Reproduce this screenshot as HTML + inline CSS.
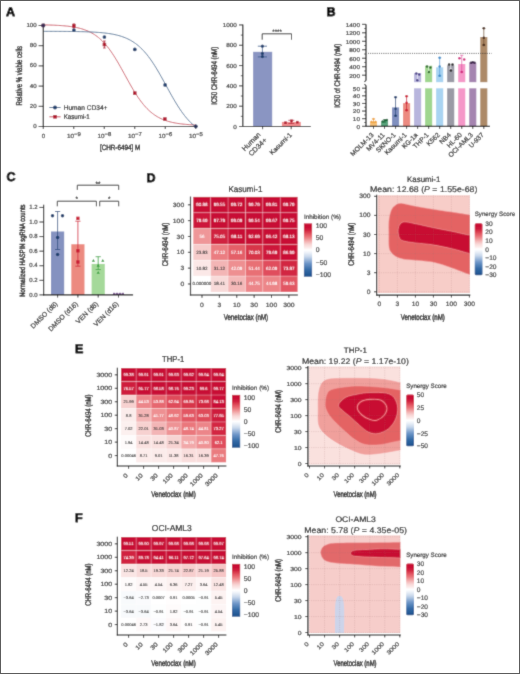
<!DOCTYPE html>
<html><head><meta charset="utf-8"><style>
html,body{margin:0;padding:0;background:#fff;}
svg{display:block;will-change:transform;}
text{font-family:"Liberation Sans", sans-serif;text-rendering:geometricPrecision;stroke-linejoin:round;}
</style></head><body>
<svg width="520" height="674" viewBox="0 0 520 674">
<defs><filter id="soft" x="0" y="0" width="520" height="674" filterUnits="userSpaceOnUse"><feConvolveMatrix order="3" kernelMatrix="0.02 0.09 0.02 0.09 0.56 0.09 0.02 0.09 0.02" divisor="1" edgeMode="duplicate" preserveAlpha="true"/></filter></defs>
<g filter="url(#soft)">
<rect x="0" y="0" width="520" height="674" fill="#fff"/>
<text x="6.00" y="16.20" font-size="12.5" text-anchor="start" fill="#000" font-weight="bold"  stroke="#000" stroke-width="0.8">A</text>
<polyline points="43.30,24.87 44.58,24.90 45.86,24.93 47.14,24.96 48.43,25.00 49.71,25.03 50.99,25.08 52.27,25.12 53.55,25.17 54.83,25.23 56.12,25.29 57.40,25.36 58.68,25.43 59.96,25.51 61.24,25.60 62.52,25.69 63.80,25.80 65.09,25.91 66.37,26.04 67.65,26.17 68.93,26.32 70.21,26.49 71.49,26.67 72.77,26.86 74.06,27.08 75.34,27.31 76.62,27.57 77.90,27.85 79.18,28.15 80.46,28.48 81.75,28.84 83.03,29.23 84.31,29.66 85.59,30.13 86.87,30.63 88.15,31.18 89.43,31.77 90.72,32.41 92.00,33.11 93.28,33.86 94.56,34.67 95.84,35.54 97.12,36.48 98.41,37.48 99.69,38.56 100.97,39.71 102.25,40.94 103.53,42.25 104.81,43.64 106.09,45.11 107.38,46.67 108.66,48.31 109.94,50.03 111.22,51.84 112.50,53.72 113.78,55.68 115.06,57.70 116.35,59.80 117.63,61.95 118.91,64.16 120.19,66.41 121.47,68.69 122.75,71.01 124.04,73.34 125.32,75.68 126.60,78.01 127.88,80.34 129.16,82.64 130.44,84.91 131.72,87.14 133.01,89.32 134.29,91.45 135.57,93.51 136.85,95.50 138.13,97.42 139.41,99.26 140.69,101.03 141.98,102.71 143.26,104.31 144.54,105.82 145.82,107.26 147.10,108.61 148.38,109.88 149.67,111.07 150.95,112.18 152.23,113.22 153.51,114.20 154.79,115.10 156.07,115.94 157.35,116.72 158.64,117.44 159.92,118.11 161.20,118.73 162.48,119.30 163.76,119.82 165.04,120.31 166.33,120.75 167.61,121.16 168.89,121.54 170.17,121.89 171.45,122.20 172.73,122.50 174.01,122.76 175.30,123.01 176.58,123.23 177.86,123.44 179.14,123.62 180.42,123.80 181.70,123.95 182.98,124.10 184.27,124.23 185.55,124.35 186.83,124.46 188.11,124.56 189.39,124.65 190.67,124.73 191.96,124.81 193.24,124.88 194.52,124.94 195.80,125.00" fill="none" stroke="#c9505e" stroke-width="0.9"/>
<polyline points="43.30,31.33 44.58,31.33 45.86,31.33 47.14,31.34 48.43,31.34 49.71,31.34 50.99,31.35 52.27,31.35 53.55,31.35 54.83,31.36 56.12,31.37 57.40,31.37 58.68,31.38 59.96,31.38 61.24,31.39 62.52,31.40 63.80,31.41 65.09,31.42 66.37,31.43 67.65,31.44 68.93,31.45 70.21,31.47 71.49,31.48 72.77,31.50 74.06,31.52 75.34,31.54 76.62,31.56 77.90,31.58 79.18,31.61 80.46,31.64 81.75,31.67 83.03,31.70 84.31,31.73 85.59,31.77 86.87,31.82 88.15,31.86 89.43,31.91 90.72,31.97 92.00,32.03 93.28,32.09 94.56,32.16 95.84,32.24 97.12,32.33 98.41,32.42 99.69,32.52 100.97,32.63 102.25,32.74 103.53,32.87 104.81,33.01 106.09,33.16 107.38,33.33 108.66,33.51 109.94,33.70 111.22,33.91 112.50,34.14 113.78,34.39 115.06,34.66 116.35,34.96 117.63,35.27 118.91,35.62 120.19,35.99 121.47,36.39 122.75,36.83 124.04,37.30 125.32,37.81 126.60,38.36 127.88,38.95 129.16,39.59 130.44,40.28 131.72,41.01 133.01,41.80 134.29,42.65 135.57,43.56 136.85,44.53 138.13,45.57 139.41,46.68 140.69,47.85 141.98,49.10 143.26,50.42 144.54,51.82 145.82,53.30 147.10,54.85 148.38,56.49 149.67,58.20 150.95,59.98 152.23,61.84 153.51,63.77 154.79,65.78 156.07,67.84 157.35,69.96 158.64,72.14 159.92,74.37 161.20,76.63 162.48,78.93 163.76,81.25 165.04,83.59 166.33,85.93 167.61,88.28 168.89,90.61 170.17,92.93 171.45,95.22 172.73,97.48 174.01,99.69 175.30,101.86 176.58,103.97 177.86,106.02 179.14,108.00 180.42,109.91 181.70,111.76 182.98,113.53 184.27,115.22 185.55,116.83 186.83,118.37 188.11,119.82 189.39,121.20 190.67,122.51 191.96,123.74 193.24,124.90 194.52,125.99 195.80,126.50" fill="none" stroke="#4b6d92" stroke-width="0.9"/>
<line x1="43.30" y1="25.00" x2="43.30" y2="127.10" stroke="#1a1a1a" stroke-width="1.2" />
<line x1="42.70" y1="126.50" x2="196.30" y2="126.50" stroke="#1a1a1a" stroke-width="1.2" />
<line x1="38.60" y1="126.50" x2="43.30" y2="126.50" stroke="#1a1a1a" stroke-width="0.9" />
<text x="0" y="0" font-size="5.8" text-anchor="end" fill="#333" transform="translate(36.70 128.00) scale(1.06 1)" stroke="#333" stroke-width="0.2" >0</text>
<line x1="38.60" y1="106.30" x2="43.30" y2="106.30" stroke="#1a1a1a" stroke-width="0.9" />
<text x="0" y="0" font-size="5.8" text-anchor="end" fill="#333" transform="translate(36.70 107.80) scale(1.06 1)" stroke="#333" stroke-width="0.2" >20</text>
<line x1="38.60" y1="86.10" x2="43.30" y2="86.10" stroke="#1a1a1a" stroke-width="0.9" />
<text x="0" y="0" font-size="5.8" text-anchor="end" fill="#333" transform="translate(36.70 87.60) scale(1.06 1)" stroke="#333" stroke-width="0.2" >40</text>
<line x1="38.60" y1="65.90" x2="43.30" y2="65.90" stroke="#1a1a1a" stroke-width="0.9" />
<text x="0" y="0" font-size="5.8" text-anchor="end" fill="#333" transform="translate(36.70 67.40) scale(1.06 1)" stroke="#333" stroke-width="0.2" >60</text>
<line x1="38.60" y1="45.70" x2="43.30" y2="45.70" stroke="#1a1a1a" stroke-width="0.9" />
<text x="0" y="0" font-size="5.8" text-anchor="end" fill="#333" transform="translate(36.70 47.20) scale(1.06 1)" stroke="#333" stroke-width="0.2" >80</text>
<line x1="38.60" y1="25.50" x2="43.30" y2="25.50" stroke="#1a1a1a" stroke-width="0.9" />
<text x="0" y="0" font-size="5.8" text-anchor="end" fill="#333" transform="translate(36.70 27.00) scale(1.06 1)" stroke="#333" stroke-width="0.2" >100</text>
<line x1="43.25" y1="126.50" x2="43.25" y2="129.00" stroke="#1a1a1a" stroke-width="0.9" />
<text x="0" y="0" font-size="6.0" text-anchor="middle" fill="#333" transform="translate(43.45 137.80)" stroke="#333" stroke-width="0.2" >0</text>
<line x1="73.75" y1="126.50" x2="73.75" y2="129.00" stroke="#1a1a1a" stroke-width="0.9" />
<text x="0" y="0" font-size="6.0" text-anchor="start" fill="#333" transform="translate(67.05 137.80) scale(1.05 1)" stroke="#333" stroke-width="0.2" >10<tspan dy="-2.2" font-size="5.7">−9</tspan></text>
<line x1="104.25" y1="126.50" x2="104.25" y2="129.00" stroke="#1a1a1a" stroke-width="0.9" />
<text x="0" y="0" font-size="6.0" text-anchor="start" fill="#333" transform="translate(97.55 137.80) scale(1.05 1)" stroke="#333" stroke-width="0.2" >10<tspan dy="-2.2" font-size="5.7">−8</tspan></text>
<line x1="134.75" y1="126.50" x2="134.75" y2="129.00" stroke="#1a1a1a" stroke-width="0.9" />
<text x="0" y="0" font-size="6.0" text-anchor="start" fill="#333" transform="translate(128.05 137.80) scale(1.05 1)" stroke="#333" stroke-width="0.2" >10<tspan dy="-2.2" font-size="5.7">−7</tspan></text>
<line x1="165.25" y1="126.50" x2="165.25" y2="129.00" stroke="#1a1a1a" stroke-width="0.9" />
<text x="0" y="0" font-size="6.0" text-anchor="start" fill="#333" transform="translate(158.55 137.80) scale(1.05 1)" stroke="#333" stroke-width="0.2" >10<tspan dy="-2.2" font-size="5.7">−6</tspan></text>
<line x1="195.75" y1="126.50" x2="195.75" y2="129.00" stroke="#1a1a1a" stroke-width="0.9" />
<text x="0" y="0" font-size="6.0" text-anchor="start" fill="#333" transform="translate(189.05 137.80) scale(1.05 1)" stroke="#333" stroke-width="0.2" >10<tspan dy="-2.2" font-size="5.7">−5</tspan></text>
<text x="120.10" y="149.90" font-size="7.5" text-anchor="middle" fill="#222" textLength="40.20" lengthAdjust="spacingAndGlyphs" stroke="#222" stroke-width="0.42">[CHR-6494] M</text>
<text x="21.90" y="75.75" font-size="8.6" text-anchor="middle" fill="#222" textLength="59.70" lengthAdjust="spacingAndGlyphs" transform="rotate(-90 21.90 75.75)" stroke="#222" stroke-width="0.42">Relative % viable cells</text>
<circle cx="73.90" cy="30.10" r="1.85" fill="#1f3f6e" />
<circle cx="104.40" cy="37.00" r="1.85" fill="#1f3f6e" />
<circle cx="134.80" cy="49.40" r="1.85" fill="#1f3f6e" />
<circle cx="165.10" cy="84.90" r="1.85" fill="#1f3f6e" />
<circle cx="195.80" cy="126.30" r="1.85" fill="#1f3f6e" />
<line x1="104.40" y1="41.00" x2="104.40" y2="48.00" stroke="#b0182f" stroke-width="0.8" />
<line x1="103.10" y1="41.00" x2="105.70" y2="41.00" stroke="#b0182f" stroke-width="0.8" />
<line x1="103.10" y1="48.00" x2="105.70" y2="48.00" stroke="#b0182f" stroke-width="0.8" />
<line x1="73.90" y1="23.90" x2="73.90" y2="27.80" stroke="#b0182f" stroke-width="0.8" />
<line x1="72.60" y1="23.90" x2="75.20" y2="23.90" stroke="#b0182f" stroke-width="0.8" />
<line x1="72.60" y1="27.80" x2="75.20" y2="27.80" stroke="#b0182f" stroke-width="0.8" />
<rect x="72.15" y="24.05" width="3.50" height="3.50" fill="#b0182f" />
<rect x="102.65" y="42.75" width="3.50" height="3.50" fill="#b0182f" />
<rect x="133.05" y="91.35" width="3.50" height="3.50" fill="#b0182f" />
<rect x="163.15" y="117.25" width="3.50" height="3.50" fill="#b0182f" />
<rect x="41.60" y="23.70" width="3.40" height="3.40" fill="#6a2040" />
<circle cx="43.30" cy="25.50" r="2.1" fill="#3a2a55" />
<path d="M193.70,126.4 L195.8,124.20 L197.90,126.4 L195.8,128.60 Z" fill="#2a3058"/>
<line x1="49.40" y1="107.50" x2="60.60" y2="107.50" stroke="#4b6d92" stroke-width="1.0" />
<circle cx="55.00" cy="107.50" r="2.0" fill="#1f3f6e" />
<text x="63.70" y="109.90" font-size="6.8" text-anchor="start" fill="#222" textLength="43.70" lengthAdjust="spacingAndGlyphs"  stroke="#222" stroke-width="0.2">Human CD34+</text>
<line x1="49.40" y1="116.80" x2="60.60" y2="116.80" stroke="#c9505e" stroke-width="1.0" />
<rect x="53.20" y="115.00" width="3.60" height="3.60" fill="#b0182f" />
<text x="63.70" y="119.20" font-size="6.8" text-anchor="start" fill="#222" textLength="26.10" lengthAdjust="spacingAndGlyphs"  stroke="#222" stroke-width="0.2">Kasumi-1</text>
<rect x="253.10" y="51.80" width="19.10" height="74.70" fill="#8a95c2" />
<rect x="281.90" y="121.90" width="18.90" height="4.60" fill="#ef8a8c" />
<line x1="262.40" y1="46.20" x2="262.40" y2="56.90" stroke="#3a5a8c" stroke-width="0.8" />
<line x1="257.80" y1="46.20" x2="267.00" y2="46.20" stroke="#3a5a8c" stroke-width="0.8" />
<line x1="257.80" y1="56.90" x2="267.00" y2="56.90" stroke="#3a5a8c" stroke-width="0.8" />
<circle cx="262.40" cy="46.20" r="1.6" fill="#1f3f6e" />
<circle cx="262.40" cy="53.40" r="1.6" fill="#1f3f6e" />
<circle cx="262.40" cy="56.60" r="1.6" fill="#1f3f6e" />
<line x1="291.30" y1="120.30" x2="291.30" y2="123.50" stroke="#b0182f" stroke-width="0.7" />
<line x1="288.30" y1="120.30" x2="294.30" y2="120.30" stroke="#b0182f" stroke-width="0.7" />
<line x1="288.30" y1="123.50" x2="294.30" y2="123.50" stroke="#b0182f" stroke-width="0.7" />
<rect x="284.20" y="121.40" width="2.60" height="2.60" fill="#b0182f" />
<rect x="290.20" y="119.50" width="2.60" height="2.60" fill="#b0182f" />
<rect x="296.00" y="120.90" width="2.60" height="2.60" fill="#b0182f" />
<line x1="242.80" y1="24.50" x2="242.80" y2="127.10" stroke="#1a1a1a" stroke-width="1.2" />
<line x1="242.20" y1="126.50" x2="310.70" y2="126.50" stroke="#1a1a1a" stroke-width="1.2" />
<line x1="239.00" y1="126.50" x2="242.80" y2="126.50" stroke="#1a1a1a" stroke-width="0.9" />
<text x="0" y="0" font-size="5.8" text-anchor="end" fill="#333" transform="translate(236.90 128.55) scale(1.1 1)" stroke="#333" stroke-width="0.2" >0</text>
<line x1="240.80" y1="116.34" x2="242.80" y2="116.34" stroke="#1a1a1a" stroke-width="0.7" />
<line x1="239.00" y1="106.19" x2="242.80" y2="106.19" stroke="#1a1a1a" stroke-width="0.9" />
<text x="0" y="0" font-size="5.8" text-anchor="end" fill="#333" transform="translate(236.90 108.24) scale(1.1 1)" stroke="#333" stroke-width="0.2" >200</text>
<line x1="240.80" y1="96.03" x2="242.80" y2="96.03" stroke="#1a1a1a" stroke-width="0.7" />
<line x1="239.00" y1="85.88" x2="242.80" y2="85.88" stroke="#1a1a1a" stroke-width="0.9" />
<text x="0" y="0" font-size="5.8" text-anchor="end" fill="#333" transform="translate(236.90 87.93) scale(1.1 1)" stroke="#333" stroke-width="0.2" >400</text>
<line x1="240.80" y1="75.72" x2="242.80" y2="75.72" stroke="#1a1a1a" stroke-width="0.7" />
<line x1="239.00" y1="65.57" x2="242.80" y2="65.57" stroke="#1a1a1a" stroke-width="0.9" />
<text x="0" y="0" font-size="5.8" text-anchor="end" fill="#333" transform="translate(236.90 67.62) scale(1.1 1)" stroke="#333" stroke-width="0.2" >600</text>
<line x1="240.80" y1="55.41" x2="242.80" y2="55.41" stroke="#1a1a1a" stroke-width="0.7" />
<line x1="239.00" y1="45.26" x2="242.80" y2="45.26" stroke="#1a1a1a" stroke-width="0.9" />
<text x="0" y="0" font-size="5.8" text-anchor="end" fill="#333" transform="translate(236.90 47.31) scale(1.1 1)" stroke="#333" stroke-width="0.2" >800</text>
<line x1="240.80" y1="35.11" x2="242.80" y2="35.11" stroke="#1a1a1a" stroke-width="0.7" />
<line x1="239.00" y1="24.95" x2="242.80" y2="24.95" stroke="#1a1a1a" stroke-width="0.9" />
<text x="0" y="0" font-size="5.8" text-anchor="end" fill="#333" transform="translate(236.90 27.00) scale(1.1 1)" stroke="#333" stroke-width="0.2" >1000</text>
<line x1="262.60" y1="126.50" x2="262.60" y2="129.20" stroke="#1a1a1a" stroke-width="0.9" />
<line x1="291.20" y1="126.50" x2="291.20" y2="129.20" stroke="#1a1a1a" stroke-width="0.9" />
<path d="M262.2,39.7 L262.2,33.8 L291.5,33.8 L291.5,39.7" fill="none" stroke="#222" stroke-width="0.9"/>
<text x="277.10" y="34.20" font-size="6.6" text-anchor="middle" fill="#222" textLength="9.60" lengthAdjust="spacingAndGlyphs"  stroke="#222" stroke-width="0.2">****</text>
<text x="216.80" y="75.80" font-size="8.2" text-anchor="middle" fill="#222" textLength="58.00" lengthAdjust="spacingAndGlyphs" transform="rotate(-90 216.80 75.80)" stroke="#222" stroke-width="0.42">IC50 CHR-6494 (nM)</text>
<text x="261.20" y="135.20" font-size="7.2" text-anchor="end" fill="#222" transform="rotate(-45 261.20 135.20)"  stroke="#222" stroke-width="0.2">Human</text>
<text x="267.40" y="140.60" font-size="7.2" text-anchor="end" fill="#222" transform="rotate(-45 267.40 140.60)"  stroke="#222" stroke-width="0.2">CD34+</text>
<text x="292.30" y="135.40" font-size="6.7" text-anchor="end" fill="#222" transform="rotate(-45 292.30 135.40)"  stroke="#222" stroke-width="0.2">Kasumi-1</text>
<text x="326.50" y="15.90" font-size="12.5" text-anchor="start" fill="#000" font-weight="bold"  stroke="#000" stroke-width="0.8">B</text>
<rect x="369.95" y="121.12" width="7.10" height="5.18" fill="#f8c27a" />
<rect x="380.98" y="120.97" width="7.10" height="5.33" fill="#5aa57e" />
<rect x="392.01" y="107.40" width="7.10" height="18.90" fill="#8090bf" />
<rect x="403.04" y="103.14" width="7.10" height="23.16" fill="#ec8a80" />
<rect x="414.07" y="88.30" width="7.10" height="38.00" fill="#b8b5dd" />
<rect x="414.07" y="73.00" width="7.10" height="9.20" fill="#b8b5dd" />
<rect x="425.10" y="88.30" width="7.10" height="38.00" fill="#9fd68e" />
<rect x="425.10" y="65.70" width="7.10" height="16.50" fill="#9fd68e" />
<rect x="436.13" y="88.30" width="7.10" height="38.00" fill="#a9d4f2" />
<rect x="436.13" y="67.31" width="7.10" height="14.89" fill="#a9d4f2" />
<rect x="447.16" y="88.30" width="7.10" height="38.00" fill="#9a9aa5" />
<rect x="447.16" y="65.19" width="7.10" height="17.01" fill="#9a9aa5" />
<rect x="458.19" y="88.30" width="7.10" height="38.00" fill="#f597c8" />
<rect x="458.19" y="64.01" width="7.10" height="18.19" fill="#f597c8" />
<rect x="469.22" y="88.30" width="7.10" height="38.00" fill="#a584b0" />
<rect x="469.22" y="62.61" width="7.10" height="19.59" fill="#a584b0" />
<rect x="480.25" y="88.30" width="7.10" height="38.00" fill="#ad8a68" />
<rect x="480.25" y="37.00" width="7.10" height="45.20" fill="#ad8a68" />
<line x1="373.50" y1="118.60" x2="373.50" y2="122.80" stroke="#eea23a" stroke-width="0.7" />
<line x1="371.90" y1="118.60" x2="375.10" y2="118.60" stroke="#eea23a" stroke-width="0.7" />
<line x1="371.90" y1="122.80" x2="375.10" y2="122.80" stroke="#eea23a" stroke-width="0.7" />
<path d="M372.10,120.06 L374.90,120.06 L373.50,117.54 Z" fill="#eea23a"/>
<path d="M370.10,122.86 L372.90,122.86 L371.50,120.34 Z" fill="#eea23a"/>
<path d="M374.10,122.86 L376.90,122.86 L375.50,120.34 Z" fill="#eea23a"/>
<line x1="384.53" y1="119.60" x2="384.53" y2="122.20" stroke="#1d6b3e" stroke-width="0.7" />
<line x1="382.93" y1="119.60" x2="386.13" y2="119.60" stroke="#1d6b3e" stroke-width="0.7" />
<line x1="382.93" y1="122.20" x2="386.13" y2="122.20" stroke="#1d6b3e" stroke-width="0.7" />
<circle cx="382.73" cy="121.60" r="1.25" fill="#1d6b3e" />
<circle cx="385.13" cy="120.20" r="1.25" fill="#1d6b3e" />
<circle cx="386.93" cy="120.00" r="1.25" fill="#1d6b3e" />
<line x1="395.56" y1="97.20" x2="395.56" y2="115.80" stroke="#2a4a7e" stroke-width="0.8" />
<line x1="393.96" y1="97.20" x2="397.16" y2="97.20" stroke="#2a4a7e" stroke-width="0.8" />
<line x1="393.96" y1="115.80" x2="397.16" y2="115.80" stroke="#2a4a7e" stroke-width="0.8" />
<circle cx="395.56" cy="97.20" r="1.25" fill="#1f3f6e" />
<circle cx="395.56" cy="108.80" r="1.25" fill="#1f3f6e" />
<circle cx="395.56" cy="115.80" r="1.25" fill="#1f3f6e" />
<line x1="406.59" y1="96.30" x2="406.59" y2="110.20" stroke="#cc1830" stroke-width="0.8" />
<line x1="404.99" y1="96.30" x2="408.19" y2="96.30" stroke="#cc1830" stroke-width="0.8" />
<line x1="404.99" y1="110.20" x2="408.19" y2="110.20" stroke="#cc1830" stroke-width="0.8" />
<circle cx="406.59" cy="96.30" r="1.25" fill="#cc1830" />
<circle cx="406.59" cy="102.80" r="1.25" fill="#cc1830" />
<circle cx="406.59" cy="110.20" r="1.25" fill="#cc1830" />
<line x1="417.62" y1="72.50" x2="417.62" y2="80.00" stroke="#ffffff" stroke-width="0.6" />
<line x1="416.02" y1="72.50" x2="419.22" y2="72.50" stroke="#ffffff" stroke-width="0.6" />
<line x1="416.02" y1="80.00" x2="419.22" y2="80.00" stroke="#ffffff" stroke-width="0.6" />
<circle cx="416.32" cy="73.60" r="1.25" fill="#4a3f86" />
<circle cx="419.22" cy="74.60" r="1.25" fill="#4a3f86" />
<circle cx="417.32" cy="80.30" r="1.25" fill="#4a3f86" />
<line x1="428.65" y1="65.80" x2="428.65" y2="71.60" stroke="#ffffff" stroke-width="0.6" />
<line x1="427.05" y1="65.80" x2="430.25" y2="65.80" stroke="#ffffff" stroke-width="0.6" />
<line x1="427.05" y1="71.60" x2="430.25" y2="71.60" stroke="#ffffff" stroke-width="0.6" />
<circle cx="427.05" cy="66.50" r="1.25" fill="#2a6a2a" />
<circle cx="430.45" cy="67.40" r="1.25" fill="#2a6a2a" />
<circle cx="428.85" cy="72.10" r="1.25" fill="#2a6a2a" />
<line x1="439.68" y1="57.70" x2="439.68" y2="75.80" stroke="#4a9ad8" stroke-width="0.7" />
<line x1="438.08" y1="57.70" x2="441.28" y2="57.70" stroke="#4a9ad8" stroke-width="0.7" />
<line x1="438.08" y1="75.80" x2="441.28" y2="75.80" stroke="#4a9ad8" stroke-width="0.7" />
<circle cx="439.68" cy="57.70" r="1.25" fill="#3d8cc8" />
<circle cx="439.68" cy="66.50" r="1.25" fill="#3d8cc8" />
<circle cx="439.68" cy="75.80" r="1.25" fill="#3d8cc8" />
<line x1="450.71" y1="64.00" x2="450.71" y2="69.00" stroke="#ffffff" stroke-width="0.6" />
<line x1="449.11" y1="64.00" x2="452.31" y2="64.00" stroke="#ffffff" stroke-width="0.6" />
<line x1="449.11" y1="69.00" x2="452.31" y2="69.00" stroke="#ffffff" stroke-width="0.6" />
<circle cx="449.11" cy="64.50" r="1.25" fill="#222" />
<circle cx="452.51" cy="64.50" r="1.25" fill="#222" />
<circle cx="450.91" cy="70.40" r="1.25" fill="#222" />
<line x1="461.74" y1="55.30" x2="461.74" y2="72.00" stroke="#e050a0" stroke-width="0.7" />
<line x1="460.14" y1="55.30" x2="463.34" y2="55.30" stroke="#e050a0" stroke-width="0.7" />
<line x1="460.14" y1="72.00" x2="463.34" y2="72.00" stroke="#e050a0" stroke-width="0.7" />
<circle cx="459.44" cy="58.30" r="1.25" fill="#d0207a" />
<circle cx="464.24" cy="59.50" r="1.25" fill="#d0207a" />
<circle cx="461.74" cy="72.00" r="1.25" fill="#d0207a" />
<circle cx="470.97" cy="62.70" r="1.25" fill="#3a1f4a" />
<circle cx="472.77" cy="62.20" r="1.25" fill="#3a1f4a" />
<circle cx="474.57" cy="62.70" r="1.25" fill="#3a1f4a" />
<line x1="483.80" y1="28.30" x2="483.80" y2="45.00" stroke="#6a4a2a" stroke-width="0.7" />
<line x1="482.20" y1="28.30" x2="485.40" y2="28.30" stroke="#6a4a2a" stroke-width="0.7" />
<line x1="482.20" y1="45.00" x2="485.40" y2="45.00" stroke="#6a4a2a" stroke-width="0.7" />
<circle cx="483.80" cy="28.30" r="1.25" fill="#4a2a1a" />
<circle cx="483.80" cy="37.70" r="1.25" fill="#4a2a1a" />
<circle cx="483.80" cy="45.00" r="1.25" fill="#4a2a1a" />
<line x1="368.00" y1="53.40" x2="491.60" y2="53.40" stroke="#222" stroke-width="0.9" stroke-dasharray="0.9 1.3"/>
<line x1="366.00" y1="24.30" x2="366.00" y2="80.40" stroke="#1a1a1a" stroke-width="1.2" />
<line x1="366.00" y1="85.60" x2="366.00" y2="126.90" stroke="#1a1a1a" stroke-width="1.2" />
<path d="M366.0,80.4 q-0.8,0.9 -1.6,1.4" fill="none" stroke="#1a1a1a" stroke-width="1.1"/>
<path d="M366.0,85.6 q-0.8,-0.9 -1.6,-1.4" fill="none" stroke="#1a1a1a" stroke-width="1.1"/>
<line x1="365.40" y1="126.40" x2="490.00" y2="126.40" stroke="#1a1a1a" stroke-width="1.2" />
<line x1="362.00" y1="75.20" x2="366.00" y2="75.20" stroke="#1a1a1a" stroke-width="0.9" />
<text x="0" y="0" font-size="5.5" text-anchor="end" fill="#333" transform="translate(360.00 77.60) scale(1.17 1)" stroke="#333" stroke-width="0.2" >200</text>
<line x1="362.00" y1="66.72" x2="366.00" y2="66.72" stroke="#1a1a1a" stroke-width="0.9" />
<text x="0" y="0" font-size="5.5" text-anchor="end" fill="#333" transform="translate(360.00 69.12) scale(1.17 1)" stroke="#333" stroke-width="0.2" >400</text>
<line x1="362.00" y1="58.24" x2="366.00" y2="58.24" stroke="#1a1a1a" stroke-width="0.9" />
<text x="0" y="0" font-size="5.5" text-anchor="end" fill="#333" transform="translate(360.00 60.64) scale(1.17 1)" stroke="#333" stroke-width="0.2" >600</text>
<line x1="362.00" y1="49.76" x2="366.00" y2="49.76" stroke="#1a1a1a" stroke-width="0.9" />
<text x="0" y="0" font-size="5.5" text-anchor="end" fill="#333" transform="translate(360.00 52.16) scale(1.17 1)" stroke="#333" stroke-width="0.2" >800</text>
<line x1="362.00" y1="41.28" x2="366.00" y2="41.28" stroke="#1a1a1a" stroke-width="0.9" />
<text x="0" y="0" font-size="5.5" text-anchor="end" fill="#333" transform="translate(360.00 43.68) scale(1.17 1)" stroke="#333" stroke-width="0.2" >1000</text>
<line x1="362.00" y1="32.80" x2="366.00" y2="32.80" stroke="#1a1a1a" stroke-width="0.9" />
<text x="0" y="0" font-size="5.5" text-anchor="end" fill="#333" transform="translate(360.00 35.20) scale(1.17 1)" stroke="#333" stroke-width="0.2" >1200</text>
<line x1="362.00" y1="24.32" x2="366.00" y2="24.32" stroke="#1a1a1a" stroke-width="0.9" />
<text x="0" y="0" font-size="5.5" text-anchor="end" fill="#333" transform="translate(360.00 26.72) scale(1.17 1)" stroke="#333" stroke-width="0.2" >1400</text>
<line x1="364.00" y1="70.96" x2="366.00" y2="70.96" stroke="#1a1a1a" stroke-width="0.6" />
<line x1="364.00" y1="62.48" x2="366.00" y2="62.48" stroke="#1a1a1a" stroke-width="0.6" />
<line x1="364.00" y1="54.00" x2="366.00" y2="54.00" stroke="#1a1a1a" stroke-width="0.6" />
<line x1="364.00" y1="45.52" x2="366.00" y2="45.52" stroke="#1a1a1a" stroke-width="0.6" />
<line x1="364.00" y1="37.04" x2="366.00" y2="37.04" stroke="#1a1a1a" stroke-width="0.6" />
<line x1="364.00" y1="28.56" x2="366.00" y2="28.56" stroke="#1a1a1a" stroke-width="0.6" />
<line x1="362.00" y1="126.30" x2="366.00" y2="126.30" stroke="#1a1a1a" stroke-width="0.9" />
<text x="0" y="0" font-size="5.5" text-anchor="end" fill="#333" transform="translate(360.00 128.70) scale(1.17 1)" stroke="#333" stroke-width="0.2" >0</text>
<line x1="362.00" y1="118.68" x2="366.00" y2="118.68" stroke="#1a1a1a" stroke-width="0.9" />
<text x="0" y="0" font-size="5.5" text-anchor="end" fill="#333" transform="translate(360.00 121.08) scale(1.17 1)" stroke="#333" stroke-width="0.2" >10</text>
<line x1="362.00" y1="111.06" x2="366.00" y2="111.06" stroke="#1a1a1a" stroke-width="0.9" />
<text x="0" y="0" font-size="5.5" text-anchor="end" fill="#333" transform="translate(360.00 113.46) scale(1.17 1)" stroke="#333" stroke-width="0.2" >20</text>
<line x1="362.00" y1="103.44" x2="366.00" y2="103.44" stroke="#1a1a1a" stroke-width="0.9" />
<text x="0" y="0" font-size="5.5" text-anchor="end" fill="#333" transform="translate(360.00 105.84) scale(1.17 1)" stroke="#333" stroke-width="0.2" >30</text>
<line x1="362.00" y1="95.82" x2="366.00" y2="95.82" stroke="#1a1a1a" stroke-width="0.9" />
<text x="0" y="0" font-size="5.5" text-anchor="end" fill="#333" transform="translate(360.00 98.22) scale(1.17 1)" stroke="#333" stroke-width="0.2" >40</text>
<line x1="362.00" y1="88.20" x2="366.00" y2="88.20" stroke="#1a1a1a" stroke-width="0.9" />
<text x="0" y="0" font-size="5.5" text-anchor="end" fill="#333" transform="translate(360.00 90.60) scale(1.17 1)" stroke="#333" stroke-width="0.2" >50</text>
<line x1="364.00" y1="122.49" x2="366.00" y2="122.49" stroke="#1a1a1a" stroke-width="0.6" />
<line x1="364.00" y1="114.87" x2="366.00" y2="114.87" stroke="#1a1a1a" stroke-width="0.6" />
<line x1="364.00" y1="107.25" x2="366.00" y2="107.25" stroke="#1a1a1a" stroke-width="0.6" />
<line x1="364.00" y1="99.63" x2="366.00" y2="99.63" stroke="#1a1a1a" stroke-width="0.6" />
<line x1="364.00" y1="92.01" x2="366.00" y2="92.01" stroke="#1a1a1a" stroke-width="0.6" />
<line x1="373.50" y1="126.40" x2="373.50" y2="128.90" stroke="#1a1a1a" stroke-width="0.9" />
<text x="374.10" y="135.40" font-size="6.7" text-anchor="end" fill="#222" transform="rotate(-45 374.10 135.40)"  stroke="#222" stroke-width="0.2">MOLM-13</text>
<line x1="384.53" y1="126.40" x2="384.53" y2="128.90" stroke="#1a1a1a" stroke-width="0.9" />
<text x="385.13" y="135.40" font-size="6.7" text-anchor="end" fill="#222" transform="rotate(-45 385.13 135.40)"  stroke="#222" stroke-width="0.2">MV4-11</text>
<line x1="395.56" y1="126.40" x2="395.56" y2="128.90" stroke="#1a1a1a" stroke-width="0.9" />
<text x="396.16" y="135.40" font-size="6.7" text-anchor="end" fill="#222" transform="rotate(-45 396.16 135.40)"  stroke="#222" stroke-width="0.2">SKNO-1</text>
<line x1="406.59" y1="126.40" x2="406.59" y2="128.90" stroke="#1a1a1a" stroke-width="0.9" />
<text x="407.19" y="135.40" font-size="6.7" text-anchor="end" fill="#222" transform="rotate(-45 407.19 135.40)"  stroke="#222" stroke-width="0.2">Kasumi-1</text>
<line x1="417.62" y1="126.40" x2="417.62" y2="128.90" stroke="#1a1a1a" stroke-width="0.9" />
<text x="418.22" y="135.40" font-size="6.7" text-anchor="end" fill="#222" transform="rotate(-45 418.22 135.40)"  stroke="#222" stroke-width="0.2">KG-1a</text>
<line x1="428.65" y1="126.40" x2="428.65" y2="128.90" stroke="#1a1a1a" stroke-width="0.9" />
<text x="429.25" y="135.40" font-size="6.7" text-anchor="end" fill="#222" transform="rotate(-45 429.25 135.40)"  stroke="#222" stroke-width="0.2">THP-1</text>
<line x1="439.68" y1="126.40" x2="439.68" y2="128.90" stroke="#1a1a1a" stroke-width="0.9" />
<text x="440.28" y="135.40" font-size="6.7" text-anchor="end" fill="#222" transform="rotate(-45 440.28 135.40)"  stroke="#222" stroke-width="0.2">K562</text>
<line x1="450.71" y1="126.40" x2="450.71" y2="128.90" stroke="#1a1a1a" stroke-width="0.9" />
<text x="451.31" y="135.40" font-size="6.7" text-anchor="end" fill="#222" transform="rotate(-45 451.31 135.40)"  stroke="#222" stroke-width="0.2">NB4</text>
<line x1="461.74" y1="126.40" x2="461.74" y2="128.90" stroke="#1a1a1a" stroke-width="0.9" />
<text x="462.34" y="135.40" font-size="6.7" text-anchor="end" fill="#222" transform="rotate(-45 462.34 135.40)"  stroke="#222" stroke-width="0.2">HL-60</text>
<line x1="472.77" y1="126.40" x2="472.77" y2="128.90" stroke="#1a1a1a" stroke-width="0.9" />
<text x="473.37" y="135.40" font-size="6.7" text-anchor="end" fill="#222" transform="rotate(-45 473.37 135.40)"  stroke="#222" stroke-width="0.2">OCI-AML3</text>
<line x1="483.80" y1="126.40" x2="483.80" y2="128.90" stroke="#1a1a1a" stroke-width="0.9" />
<text x="484.40" y="135.40" font-size="6.7" text-anchor="end" fill="#222" transform="rotate(-45 484.40 135.40)"  stroke="#222" stroke-width="0.2">U-937</text>
<text x="340.20" y="75.65" font-size="8.1" text-anchor="middle" fill="#222" textLength="64.10" lengthAdjust="spacingAndGlyphs" transform="rotate(-90 340.20 75.65)" stroke="#222" stroke-width="0.42">IC50 of CHR-6494 (nM)</text>
<text x="6.60" y="181.30" font-size="12.5" text-anchor="start" fill="#000" font-weight="bold"  stroke="#000" stroke-width="0.8">C</text>
<rect x="51.00" y="231.48" width="13.20" height="63.42" fill="#8592c0" />
<rect x="71.30" y="244.23" width="13.20" height="50.67" fill="#ec8a80" />
<rect x="91.60" y="263.92" width="13.20" height="30.98" fill="#a5d99a" />
<rect x="111.90" y="294.61" width="13.20" height="0.29" fill="#c0a0d0" />
<line x1="57.60" y1="211.50" x2="57.60" y2="249.50" stroke="#2a4a7e" stroke-width="0.8" />
<line x1="55.00" y1="211.50" x2="60.20" y2="211.50" stroke="#2a4a7e" stroke-width="0.8" />
<line x1="55.00" y1="249.50" x2="60.20" y2="249.50" stroke="#2a4a7e" stroke-width="0.8" />
<circle cx="52.50" cy="215.70" r="1.75" fill="#1f3f6e" />
<circle cx="62.50" cy="215.70" r="1.75" fill="#1f3f6e" />
<circle cx="57.60" cy="237.50" r="1.75" fill="#1f3f6e" />
<circle cx="57.60" cy="254.40" r="1.75" fill="#1f3f6e" />
<line x1="77.90" y1="221.20" x2="77.90" y2="266.20" stroke="#d0283a" stroke-width="0.8" />
<line x1="75.30" y1="221.20" x2="80.50" y2="221.20" stroke="#d0283a" stroke-width="0.8" />
<line x1="75.30" y1="266.20" x2="80.50" y2="266.20" stroke="#d0283a" stroke-width="0.8" />
<rect x="76.25" y="216.65" width="3.30" height="3.30" fill="#c81830" />
<rect x="76.25" y="249.15" width="3.30" height="3.30" fill="#c81830" />
<rect x="76.25" y="260.35" width="3.30" height="3.30" fill="#c81830" />
<line x1="98.20" y1="256.70" x2="98.20" y2="269.60" stroke="#3aa040" stroke-width="0.8" />
<line x1="95.60" y1="256.70" x2="100.80" y2="256.70" stroke="#3aa040" stroke-width="0.8" />
<line x1="95.60" y1="269.60" x2="100.80" y2="269.60" stroke="#3aa040" stroke-width="0.8" />
<path d="M91.80,261.84 L95.00,261.84 L93.40,258.96 Z" fill="#3aa040"/>
<path d="M101.20,261.84 L104.40,261.84 L102.80,258.96 Z" fill="#3aa040"/>
<path d="M96.60,266.74 L99.80,266.74 L98.20,263.86 Z" fill="#3aa040"/>
<path d="M96.60,273.84 L99.80,273.84 L98.20,270.96 Z" fill="#3aa040"/>
<path d="M112.50,294.95 L115.50,294.95 L114.00,292.25 Z" fill="#5a2a7a"/>
<path d="M115.50,294.95 L118.50,294.95 L117.00,292.25 Z" fill="#5a2a7a"/>
<path d="M118.50,294.95 L121.50,294.95 L120.00,292.25 Z" fill="#5a2a7a"/>
<path d="M121.50,294.95 L124.50,294.95 L123.00,292.25 Z" fill="#5a2a7a"/>
<line x1="113.00" y1="294.00" x2="124.00" y2="294.00" stroke="#5a2a7a" stroke-width="0.8" />
<line x1="43.60" y1="204.80" x2="43.60" y2="295.50" stroke="#1a1a1a" stroke-width="1.2" />
<line x1="43.00" y1="294.90" x2="133.10" y2="294.90" stroke="#1a1a1a" stroke-width="1.2" />
<line x1="39.40" y1="294.90" x2="43.60" y2="294.90" stroke="#1a1a1a" stroke-width="0.9" />
<text x="0" y="0" font-size="6.1" text-anchor="end" fill="#333" transform="translate(37.60 296.50) scale(0.98 1)" stroke="#333" stroke-width="0.2" >0.0</text>
<line x1="39.40" y1="280.32" x2="43.60" y2="280.32" stroke="#1a1a1a" stroke-width="0.9" />
<text x="0" y="0" font-size="6.1" text-anchor="end" fill="#333" transform="translate(37.60 281.92) scale(0.98 1)" stroke="#333" stroke-width="0.2" >0.2</text>
<line x1="39.40" y1="265.74" x2="43.60" y2="265.74" stroke="#1a1a1a" stroke-width="0.9" />
<text x="0" y="0" font-size="6.1" text-anchor="end" fill="#333" transform="translate(37.60 267.34) scale(0.98 1)" stroke="#333" stroke-width="0.2" >0.4</text>
<line x1="39.40" y1="251.16" x2="43.60" y2="251.16" stroke="#1a1a1a" stroke-width="0.9" />
<text x="0" y="0" font-size="6.1" text-anchor="end" fill="#333" transform="translate(37.60 252.76) scale(0.98 1)" stroke="#333" stroke-width="0.2" >0.6</text>
<line x1="39.40" y1="236.58" x2="43.60" y2="236.58" stroke="#1a1a1a" stroke-width="0.9" />
<text x="0" y="0" font-size="6.1" text-anchor="end" fill="#333" transform="translate(37.60 238.18) scale(0.98 1)" stroke="#333" stroke-width="0.2" >0.8</text>
<line x1="39.40" y1="222.00" x2="43.60" y2="222.00" stroke="#1a1a1a" stroke-width="0.9" />
<text x="0" y="0" font-size="6.1" text-anchor="end" fill="#333" transform="translate(37.60 223.60) scale(0.98 1)" stroke="#333" stroke-width="0.2" >1.0</text>
<line x1="39.40" y1="207.42" x2="43.60" y2="207.42" stroke="#1a1a1a" stroke-width="0.9" />
<text x="0" y="0" font-size="6.1" text-anchor="end" fill="#333" transform="translate(37.60 209.02) scale(0.98 1)" stroke="#333" stroke-width="0.2" >1.2</text>
<line x1="57.60" y1="294.90" x2="57.60" y2="297.50" stroke="#1a1a1a" stroke-width="0.9" />
<text x="58.00" y="304.30" font-size="6.9" text-anchor="end" fill="#222" transform="rotate(-45 58.00 304.30)"  stroke="#222" stroke-width="0.2">DMSO (d8)</text>
<line x1="77.90" y1="294.90" x2="77.90" y2="297.50" stroke="#1a1a1a" stroke-width="0.9" />
<text x="78.30" y="304.30" font-size="6.9" text-anchor="end" fill="#222" transform="rotate(-45 78.30 304.30)"  stroke="#222" stroke-width="0.2">DMSO (d16)</text>
<line x1="98.20" y1="294.90" x2="98.20" y2="297.50" stroke="#1a1a1a" stroke-width="0.9" />
<text x="98.60" y="304.30" font-size="6.9" text-anchor="end" fill="#222" transform="rotate(-45 98.60 304.30)"  stroke="#222" stroke-width="0.2">VEN (d8)</text>
<line x1="118.50" y1="294.90" x2="118.50" y2="297.50" stroke="#1a1a1a" stroke-width="0.9" />
<text x="118.90" y="304.30" font-size="6.9" text-anchor="end" fill="#222" transform="rotate(-45 118.90 304.30)"  stroke="#222" stroke-width="0.2">VEN (d16)</text>
<path d="M77.3,189.9 L77.3,185.2 L118.7,185.2 L118.7,189.9" fill="none" stroke="#222" stroke-width="0.9"/>
<text x="97.90" y="185.50" font-size="6.4" text-anchor="middle" fill="#222"  stroke="#222" stroke-width="0.2">**</text>
<path d="M57.3,206.3 L57.3,201.2 L96.4,201.2 L96.4,206.3" fill="none" stroke="#222" stroke-width="0.9"/>
<text x="76.80" y="201.00" font-size="6.4" text-anchor="middle" fill="#222"  stroke="#222" stroke-width="0.2">*</text>
<path d="M99.7,206.3 L99.7,201.2 L118.7,201.2 L118.7,206.3" fill="none" stroke="#222" stroke-width="0.9"/>
<text x="109.20" y="201.00" font-size="6.4" text-anchor="middle" fill="#222"  stroke="#222" stroke-width="0.2">*</text>
<text x="24.80" y="250.65" font-size="7.8" text-anchor="middle" fill="#222" textLength="92.30" lengthAdjust="spacingAndGlyphs" transform="rotate(-90 24.80 250.65)" stroke="#222" stroke-width="0.42">Normalized HASPIN sgRNA counts</text>
<text x="146.60" y="181.80" font-size="12.5" text-anchor="start" fill="#000" font-weight="bold"  stroke="#000" stroke-width="0.8">D</text>
<rect x="193.30" y="196.90" width="17.38" height="15.83" fill="#c90e35" />
<rect x="210.68" y="196.90" width="17.38" height="15.83" fill="#c80c34" />
<rect x="228.06" y="196.90" width="17.38" height="15.83" fill="#c80c34" />
<rect x="245.44" y="196.90" width="17.38" height="15.83" fill="#c80c34" />
<rect x="262.82" y="196.90" width="17.38" height="15.83" fill="#c80c34" />
<rect x="280.20" y="196.90" width="17.38" height="15.83" fill="#c80c34" />
<rect x="193.30" y="212.73" width="17.38" height="15.83" fill="#cd183b" />
<rect x="210.68" y="212.73" width="17.38" height="15.83" fill="#c80d34" />
<rect x="228.06" y="212.73" width="17.38" height="15.83" fill="#c80c34" />
<rect x="245.44" y="212.73" width="17.38" height="15.83" fill="#c80c34" />
<rect x="262.82" y="212.73" width="17.38" height="15.83" fill="#c80c34" />
<rect x="280.20" y="212.73" width="17.38" height="15.83" fill="#c80c34" />
<rect x="193.30" y="228.56" width="17.38" height="15.83" fill="#ef9698" />
<rect x="210.68" y="228.56" width="17.38" height="15.83" fill="#d02140" />
<rect x="228.06" y="228.56" width="17.38" height="15.83" fill="#c80d34" />
<rect x="245.44" y="228.56" width="17.38" height="15.83" fill="#c90e35" />
<rect x="262.82" y="228.56" width="17.38" height="15.83" fill="#c80d34" />
<rect x="280.20" y="228.56" width="17.38" height="15.83" fill="#c80c34" />
<rect x="193.30" y="244.39" width="17.38" height="15.83" fill="#f6cccb" />
<rect x="210.68" y="244.39" width="17.38" height="15.83" fill="#eb7d81" />
<rect x="228.06" y="244.39" width="17.38" height="15.83" fill="#e45e68" />
<rect x="245.44" y="244.39" width="17.38" height="15.83" fill="#d73448" />
<rect x="262.82" y="244.39" width="17.38" height="15.83" fill="#cd183b" />
<rect x="280.20" y="244.39" width="17.38" height="15.83" fill="#ca0f36" />
<rect x="193.30" y="260.22" width="17.38" height="15.83" fill="#fbe8e7" />
<rect x="210.68" y="260.22" width="17.38" height="15.83" fill="#f3b5b5" />
<rect x="228.06" y="260.22" width="17.38" height="15.83" fill="#ee8f91" />
<rect x="245.44" y="260.22" width="17.38" height="15.83" fill="#e86f75" />
<rect x="262.82" y="260.22" width="17.38" height="15.83" fill="#e04e5d" />
<rect x="280.20" y="260.22" width="17.38" height="15.83" fill="#d22642" />
<rect x="193.30" y="276.05" width="17.38" height="15.83" fill="#ffffff" />
<rect x="210.68" y="276.05" width="17.38" height="15.83" fill="#f8dad9" />
<rect x="228.06" y="276.05" width="17.38" height="15.83" fill="#f4b8b8" />
<rect x="245.44" y="276.05" width="17.38" height="15.83" fill="#ec8589" />
<rect x="262.82" y="276.05" width="17.38" height="15.83" fill="#ec8588" />
<rect x="280.20" y="276.05" width="17.38" height="15.83" fill="#e25663" />
<line x1="210.68" y1="196.90" x2="210.68" y2="291.88" stroke="#ffffff" stroke-width="0.8" stroke-opacity="0.42"/>
<line x1="228.06" y1="196.90" x2="228.06" y2="291.88" stroke="#ffffff" stroke-width="0.8" stroke-opacity="0.42"/>
<line x1="245.44" y1="196.90" x2="245.44" y2="291.88" stroke="#ffffff" stroke-width="0.8" stroke-opacity="0.42"/>
<line x1="262.82" y1="196.90" x2="262.82" y2="291.88" stroke="#ffffff" stroke-width="0.8" stroke-opacity="0.42"/>
<line x1="280.20" y1="196.90" x2="280.20" y2="291.88" stroke="#ffffff" stroke-width="0.8" stroke-opacity="0.42"/>
<line x1="193.30" y1="212.73" x2="297.58" y2="212.73" stroke="#ffffff" stroke-width="0.8" stroke-opacity="0.42"/>
<line x1="193.30" y1="228.56" x2="297.58" y2="228.56" stroke="#ffffff" stroke-width="0.8" stroke-opacity="0.42"/>
<line x1="193.30" y1="244.39" x2="297.58" y2="244.39" stroke="#ffffff" stroke-width="0.8" stroke-opacity="0.42"/>
<line x1="193.30" y1="260.22" x2="297.58" y2="260.22" stroke="#ffffff" stroke-width="0.8" stroke-opacity="0.42"/>
<line x1="193.30" y1="276.05" x2="297.58" y2="276.05" stroke="#ffffff" stroke-width="0.8" stroke-opacity="0.42"/>
<text x="201.99" y="206.31" font-size="4.5" text-anchor="middle" fill="#ffffff" stroke="#ffffff" stroke-width="0.1">90.88</text>
<text x="219.37" y="206.31" font-size="4.5" text-anchor="middle" fill="#ffffff" stroke="#ffffff" stroke-width="0.1">99.55</text>
<text x="236.75" y="206.31" font-size="4.5" text-anchor="middle" fill="#ffffff" stroke="#ffffff" stroke-width="0.1">99.72</text>
<text x="254.13" y="206.31" font-size="4.5" text-anchor="middle" fill="#ffffff" stroke="#ffffff" stroke-width="0.1">99.79</text>
<text x="271.51" y="206.31" font-size="4.5" text-anchor="middle" fill="#ffffff" stroke="#ffffff" stroke-width="0.1">99.81</text>
<text x="288.89" y="206.31" font-size="4.5" text-anchor="middle" fill="#ffffff" stroke="#ffffff" stroke-width="0.1">99.79</text>
<text x="201.99" y="222.15" font-size="4.5" text-anchor="middle" fill="#ffffff" stroke="#ffffff" stroke-width="0.1">79.69</text>
<text x="219.37" y="222.15" font-size="4.5" text-anchor="middle" fill="#ffffff" stroke="#ffffff" stroke-width="0.1">97.79</text>
<text x="236.75" y="222.15" font-size="4.5" text-anchor="middle" fill="#ffffff" stroke="#ffffff" stroke-width="0.1">99.09</text>
<text x="254.13" y="222.15" font-size="4.5" text-anchor="middle" fill="#ffffff" stroke="#ffffff" stroke-width="0.1">99.54</text>
<text x="271.51" y="222.15" font-size="4.5" text-anchor="middle" fill="#ffffff" stroke="#ffffff" stroke-width="0.1">99.67</text>
<text x="288.89" y="222.15" font-size="4.5" text-anchor="middle" fill="#ffffff" stroke="#ffffff" stroke-width="0.1">99.75</text>
<text x="201.99" y="237.98" font-size="4.5" text-anchor="middle" fill="#ffffff" stroke="#ffffff" stroke-width="0.1">56</text>
<text x="219.37" y="237.98" font-size="4.5" text-anchor="middle" fill="#ffffff" stroke="#ffffff" stroke-width="0.1">75.05</text>
<text x="236.75" y="237.98" font-size="4.5" text-anchor="middle" fill="#ffffff" stroke="#ffffff" stroke-width="0.1">98.11</text>
<text x="254.13" y="237.98" font-size="4.5" text-anchor="middle" fill="#ffffff" stroke="#ffffff" stroke-width="0.1">92.69</text>
<text x="271.51" y="237.98" font-size="4.5" text-anchor="middle" fill="#ffffff" stroke="#ffffff" stroke-width="0.1">96.42</text>
<text x="288.89" y="237.98" font-size="4.5" text-anchor="middle" fill="#ffffff" stroke="#ffffff" stroke-width="0.1">98.13</text>
<text x="201.99" y="253.81" font-size="4.5" text-anchor="middle" fill="#333" stroke="#333" stroke-width="0.1">23.83</text>
<text x="219.37" y="253.81" font-size="4.5" text-anchor="middle" fill="#ffffff" stroke="#ffffff" stroke-width="0.1">47.12</text>
<text x="236.75" y="253.81" font-size="4.5" text-anchor="middle" fill="#ffffff" stroke="#ffffff" stroke-width="0.1">57.16</text>
<text x="254.13" y="253.81" font-size="4.5" text-anchor="middle" fill="#ffffff" stroke="#ffffff" stroke-width="0.1">70.03</text>
<text x="271.51" y="253.81" font-size="4.5" text-anchor="middle" fill="#ffffff" stroke="#ffffff" stroke-width="0.1">79.69</text>
<text x="288.89" y="253.81" font-size="4.5" text-anchor="middle" fill="#ffffff" stroke="#ffffff" stroke-width="0.1">86.99</text>
<text x="201.99" y="269.63" font-size="4.5" text-anchor="middle" fill="#333" stroke="#333" stroke-width="0.1">10.82</text>
<text x="219.37" y="269.63" font-size="4.5" text-anchor="middle" fill="#333" stroke="#333" stroke-width="0.1">31.12</text>
<text x="236.75" y="269.63" font-size="4.5" text-anchor="middle" fill="#ffffff" stroke="#ffffff" stroke-width="0.1">42.09</text>
<text x="254.13" y="269.63" font-size="4.5" text-anchor="middle" fill="#ffffff" stroke="#ffffff" stroke-width="0.1">51.44</text>
<text x="271.51" y="269.63" font-size="4.5" text-anchor="middle" fill="#ffffff" stroke="#ffffff" stroke-width="0.1">62.09</text>
<text x="288.89" y="269.63" font-size="4.5" text-anchor="middle" fill="#ffffff" stroke="#ffffff" stroke-width="0.1">73.87</text>
<text x="201.99" y="285.47" font-size="4.5" text-anchor="middle" fill="#333" stroke="#333" stroke-width="0.1">0.000000</text>
<text x="219.37" y="285.47" font-size="4.5" text-anchor="middle" fill="#333" stroke="#333" stroke-width="0.1">18.41</text>
<text x="236.75" y="285.47" font-size="4.5" text-anchor="middle" fill="#333" stroke="#333" stroke-width="0.1">30.16</text>
<text x="254.13" y="285.47" font-size="4.5" text-anchor="middle" fill="#ffffff" stroke="#ffffff" stroke-width="0.1">44.75</text>
<text x="271.51" y="285.47" font-size="4.5" text-anchor="middle" fill="#ffffff" stroke="#ffffff" stroke-width="0.1">44.98</text>
<text x="288.89" y="285.47" font-size="4.5" text-anchor="middle" fill="#ffffff" stroke="#ffffff" stroke-width="0.1">59.63</text>
<line x1="190.50" y1="196.60" x2="190.50" y2="295.60" stroke="#1a1a1a" stroke-width="1.2" />
<line x1="189.90" y1="295.00" x2="297.88" y2="295.00" stroke="#1a1a1a" stroke-width="1.2" />
<line x1="187.90" y1="204.81" x2="190.50" y2="204.81" stroke="#1a1a1a" stroke-width="0.9" />
<text x="0" y="0" font-size="6.2" text-anchor="end" fill="#333" transform="translate(184.20 206.91) scale(1.1 1)" stroke="#333" stroke-width="0.2" >300</text>
<line x1="187.90" y1="220.65" x2="190.50" y2="220.65" stroke="#1a1a1a" stroke-width="0.9" />
<text x="0" y="0" font-size="6.2" text-anchor="end" fill="#333" transform="translate(184.20 222.75) scale(1.1 1)" stroke="#333" stroke-width="0.2" >100</text>
<line x1="187.90" y1="236.48" x2="190.50" y2="236.48" stroke="#1a1a1a" stroke-width="0.9" />
<text x="0" y="0" font-size="6.2" text-anchor="end" fill="#333" transform="translate(184.20 238.58) scale(1.1 1)" stroke="#333" stroke-width="0.2" >30</text>
<line x1="187.90" y1="252.31" x2="190.50" y2="252.31" stroke="#1a1a1a" stroke-width="0.9" />
<text x="0" y="0" font-size="6.2" text-anchor="end" fill="#333" transform="translate(184.20 254.41) scale(1.1 1)" stroke="#333" stroke-width="0.2" >10</text>
<line x1="187.90" y1="268.13" x2="190.50" y2="268.13" stroke="#1a1a1a" stroke-width="0.9" />
<text x="0" y="0" font-size="6.2" text-anchor="end" fill="#333" transform="translate(184.20 270.24) scale(1.1 1)" stroke="#333" stroke-width="0.2" >3</text>
<line x1="187.90" y1="283.97" x2="190.50" y2="283.97" stroke="#1a1a1a" stroke-width="0.9" />
<text x="0" y="0" font-size="6.2" text-anchor="end" fill="#333" transform="translate(184.20 286.07) scale(1.1 1)" stroke="#333" stroke-width="0.2" >0</text>
<line x1="201.99" y1="295.00" x2="201.99" y2="297.80" stroke="#1a1a1a" stroke-width="0.9" />
<text x="0" y="0" font-size="6.2" text-anchor="middle" fill="#333" transform="translate(201.99 306.70) scale(1.1 1)" stroke="#333" stroke-width="0.2" >0</text>
<line x1="219.37" y1="295.00" x2="219.37" y2="297.80" stroke="#1a1a1a" stroke-width="0.9" />
<text x="0" y="0" font-size="6.2" text-anchor="middle" fill="#333" transform="translate(219.37 306.70) scale(1.1 1)" stroke="#333" stroke-width="0.2" >3</text>
<line x1="236.75" y1="295.00" x2="236.75" y2="297.80" stroke="#1a1a1a" stroke-width="0.9" />
<text x="0" y="0" font-size="6.2" text-anchor="middle" fill="#333" transform="translate(236.75 306.70) scale(1.1 1)" stroke="#333" stroke-width="0.2" >10</text>
<line x1="254.13" y1="295.00" x2="254.13" y2="297.80" stroke="#1a1a1a" stroke-width="0.9" />
<text x="0" y="0" font-size="6.2" text-anchor="middle" fill="#333" transform="translate(254.13 306.70) scale(1.1 1)" stroke="#333" stroke-width="0.2" >30</text>
<line x1="271.51" y1="295.00" x2="271.51" y2="297.80" stroke="#1a1a1a" stroke-width="0.9" />
<text x="0" y="0" font-size="6.2" text-anchor="middle" fill="#333" transform="translate(271.51 306.70) scale(1.1 1)" stroke="#333" stroke-width="0.2" >100</text>
<line x1="288.89" y1="295.00" x2="288.89" y2="297.80" stroke="#1a1a1a" stroke-width="0.9" />
<text x="0" y="0" font-size="6.2" text-anchor="middle" fill="#333" transform="translate(288.89 306.70) scale(1.1 1)" stroke="#333" stroke-width="0.2" >300</text>
<text x="245.50" y="192.20" font-size="8.6" text-anchor="middle" fill="#111" textLength="34.00" lengthAdjust="spacingAndGlyphs"  stroke="#111" stroke-width="0.2">Kasumi-1</text>
<text x="167.80" y="244.40" font-size="8.4" text-anchor="middle" fill="#222" textLength="43.60" lengthAdjust="spacingAndGlyphs" transform="rotate(-90 167.80 244.40)" stroke="#222" stroke-width="0.42">CHR-6494 (nM)</text>
<text x="245.90" y="319.70" font-size="8.4" text-anchor="middle" fill="#222" textLength="44.40" lengthAdjust="spacingAndGlyphs" stroke="#222" stroke-width="0.42">Venetoclax (nM)</text>
<defs><linearGradient id="hg223" x1="0" y1="0" x2="0" y2="1"><stop offset="0.000" stop-color="#c80c34"/><stop offset="0.025" stop-color="#c90d35"/><stop offset="0.050" stop-color="#c90f35"/><stop offset="0.075" stop-color="#ca1036"/><stop offset="0.100" stop-color="#cd183a"/><stop offset="0.125" stop-color="#d02240"/><stop offset="0.150" stop-color="#d73448"/><stop offset="0.175" stop-color="#dc4455"/><stop offset="0.200" stop-color="#e25562"/><stop offset="0.225" stop-color="#e6646d"/><stop offset="0.250" stop-color="#e97378"/><stop offset="0.275" stop-color="#ec8488"/><stop offset="0.300" stop-color="#ef9698"/><stop offset="0.325" stop-color="#f2a8a8"/><stop offset="0.350" stop-color="#f4b9b9"/><stop offset="0.375" stop-color="#f6c8c8"/><stop offset="0.400" stop-color="#f8d7d6"/><stop offset="0.425" stop-color="#fae0df"/><stop offset="0.450" stop-color="#fbe9e8"/><stop offset="0.475" stop-color="#fdf4f4"/><stop offset="0.500" stop-color="#ffffff"/><stop offset="0.525" stop-color="#f6f8fc"/><stop offset="0.550" stop-color="#ecf1f8"/><stop offset="0.575" stop-color="#e0e8f4"/><stop offset="0.600" stop-color="#d4e0ef"/><stop offset="0.625" stop-color="#c8d7eb"/><stop offset="0.650" stop-color="#b6cae4"/><stop offset="0.675" stop-color="#a4bddd"/><stop offset="0.700" stop-color="#92b0d6"/><stop offset="0.725" stop-color="#80a3cf"/><stop offset="0.750" stop-color="#6e96c8"/><stop offset="0.775" stop-color="#628dc1"/><stop offset="0.800" stop-color="#5684ba"/><stop offset="0.825" stop-color="#4a7bb3"/><stop offset="0.850" stop-color="#3e72ac"/><stop offset="0.875" stop-color="#3269a5"/><stop offset="0.900" stop-color="#2e64a0"/><stop offset="0.925" stop-color="#295f9b"/><stop offset="0.950" stop-color="#255a96"/><stop offset="0.975" stop-color="#205591"/><stop offset="1.000" stop-color="#1c508c"/></linearGradient></defs>
<rect x="303.90" y="223.40" width="8.20" height="53.30" fill="url(#hg223)" />
<text x="303.90" y="218.80" font-size="6.3" text-anchor="start" fill="#333" textLength="37.00" lengthAdjust="spacingAndGlyphs"  stroke="#333" stroke-width="0.2">Inhibition (%)</text>
<text x="315.70" y="228.20" font-size="6.8" text-anchor="start" fill="#333"  stroke="#333" stroke-width="0.2">100</text>
<text x="315.70" y="240.33" font-size="6.8" text-anchor="start" fill="#333"  stroke="#333" stroke-width="0.2">50</text>
<text x="315.70" y="252.45" font-size="6.8" text-anchor="start" fill="#333"  stroke="#333" stroke-width="0.2">0</text>
<text x="315.70" y="264.57" font-size="6.8" text-anchor="start" fill="#333"  stroke="#333" stroke-width="0.2">−50</text>
<text x="315.70" y="276.70" font-size="6.8" text-anchor="start" fill="#333"  stroke="#333" stroke-width="0.2">−100</text>
<text x="75.00" y="352.80" font-size="12.5" text-anchor="start" fill="#000" font-weight="bold"  stroke="#000" stroke-width="0.8">E</text>
<rect x="121.10" y="368.10" width="15.00" height="13.46" fill="#c80c34" />
<rect x="136.10" y="368.10" width="15.00" height="13.46" fill="#c80c34" />
<rect x="151.10" y="368.10" width="15.00" height="13.46" fill="#c80c34" />
<rect x="166.10" y="368.10" width="15.00" height="13.46" fill="#c80c34" />
<rect x="181.10" y="368.10" width="15.00" height="13.46" fill="#c80c34" />
<rect x="196.10" y="368.10" width="15.00" height="13.46" fill="#c80c34" />
<rect x="211.10" y="368.10" width="15.00" height="13.46" fill="#c80c34" />
<rect x="121.10" y="381.56" width="15.00" height="13.46" fill="#cf1d3d" />
<rect x="136.10" y="381.56" width="15.00" height="13.46" fill="#c90d35" />
<rect x="151.10" y="381.56" width="15.00" height="13.46" fill="#c80c34" />
<rect x="166.10" y="381.56" width="15.00" height="13.46" fill="#c80c34" />
<rect x="181.10" y="381.56" width="15.00" height="13.46" fill="#c80c34" />
<rect x="196.10" y="381.56" width="15.00" height="13.46" fill="#c80c34" />
<rect x="211.10" y="381.56" width="15.00" height="13.46" fill="#c80c34" />
<rect x="121.10" y="395.02" width="15.00" height="13.46" fill="#f7d1d0" />
<rect x="136.10" y="395.02" width="15.00" height="13.46" fill="#ec868a" />
<rect x="151.10" y="395.02" width="15.00" height="13.46" fill="#e6676f" />
<rect x="166.10" y="395.02" width="15.00" height="13.46" fill="#df4b5a" />
<rect x="181.10" y="395.02" width="15.00" height="13.46" fill="#d73448" />
<rect x="196.10" y="395.02" width="15.00" height="13.46" fill="#d22541" />
<rect x="211.10" y="395.02" width="15.00" height="13.46" fill="#ca1137" />
<rect x="121.10" y="408.48" width="15.00" height="13.46" fill="#fbeceb" />
<rect x="136.10" y="408.48" width="15.00" height="13.46" fill="#f3b5b5" />
<rect x="151.10" y="408.48" width="15.00" height="13.46" fill="#ee9092" />
<rect x="166.10" y="408.48" width="15.00" height="13.46" fill="#ea777b" />
<rect x="181.10" y="408.48" width="15.00" height="13.46" fill="#e25663" />
<rect x="196.10" y="408.48" width="15.00" height="13.46" fill="#df4b5a" />
<rect x="211.10" y="408.48" width="15.00" height="13.46" fill="#ce1b3c" />
<rect x="121.10" y="421.94" width="15.00" height="13.46" fill="#fcf0ef" />
<rect x="136.10" y="421.94" width="15.00" height="13.46" fill="#f7d1d0" />
<rect x="151.10" y="421.94" width="15.00" height="13.46" fill="#f3b5b6" />
<rect x="166.10" y="421.94" width="15.00" height="13.46" fill="#ee9395" />
<rect x="181.10" y="421.94" width="15.00" height="13.46" fill="#ea777c" />
<rect x="196.10" y="421.94" width="15.00" height="13.46" fill="#ec8589" />
<rect x="211.10" y="421.94" width="15.00" height="13.46" fill="#d32843" />
<rect x="121.10" y="435.40" width="15.00" height="13.46" fill="#fefbfb" />
<rect x="136.10" y="435.40" width="15.00" height="13.46" fill="#fae1e0" />
<rect x="151.10" y="435.40" width="15.00" height="13.46" fill="#fae1e0" />
<rect x="166.10" y="435.40" width="15.00" height="13.46" fill="#f7d3d2" />
<rect x="181.10" y="435.40" width="15.00" height="13.46" fill="#f2a8a9" />
<rect x="196.10" y="435.40" width="15.00" height="13.46" fill="#ef9395" />
<rect x="211.10" y="435.40" width="15.00" height="13.46" fill="#e04e5d" />
<rect x="121.10" y="448.86" width="15.00" height="13.46" fill="#ffffff" />
<rect x="136.10" y="448.86" width="15.00" height="13.46" fill="#fceceb" />
<rect x="151.10" y="448.86" width="15.00" height="13.46" fill="#fbebea" />
<rect x="166.10" y="448.86" width="15.00" height="13.46" fill="#fbe7e6" />
<rect x="181.10" y="448.86" width="15.00" height="13.46" fill="#f9dedd" />
<rect x="196.10" y="448.86" width="15.00" height="13.46" fill="#f9dddc" />
<rect x="211.10" y="448.86" width="15.00" height="13.46" fill="#ea7b7f" />
<line x1="136.10" y1="368.10" x2="136.10" y2="462.32" stroke="#ffffff" stroke-width="0.8" stroke-opacity="0.42"/>
<line x1="151.10" y1="368.10" x2="151.10" y2="462.32" stroke="#ffffff" stroke-width="0.8" stroke-opacity="0.42"/>
<line x1="166.10" y1="368.10" x2="166.10" y2="462.32" stroke="#ffffff" stroke-width="0.8" stroke-opacity="0.42"/>
<line x1="181.10" y1="368.10" x2="181.10" y2="462.32" stroke="#ffffff" stroke-width="0.8" stroke-opacity="0.42"/>
<line x1="196.10" y1="368.10" x2="196.10" y2="462.32" stroke="#ffffff" stroke-width="0.8" stroke-opacity="0.42"/>
<line x1="211.10" y1="368.10" x2="211.10" y2="462.32" stroke="#ffffff" stroke-width="0.8" stroke-opacity="0.42"/>
<line x1="121.10" y1="381.56" x2="226.10" y2="381.56" stroke="#ffffff" stroke-width="0.8" stroke-opacity="0.42"/>
<line x1="121.10" y1="395.02" x2="226.10" y2="395.02" stroke="#ffffff" stroke-width="0.8" stroke-opacity="0.42"/>
<line x1="121.10" y1="408.48" x2="226.10" y2="408.48" stroke="#ffffff" stroke-width="0.8" stroke-opacity="0.42"/>
<line x1="121.10" y1="421.94" x2="226.10" y2="421.94" stroke="#ffffff" stroke-width="0.8" stroke-opacity="0.42"/>
<line x1="121.10" y1="435.40" x2="226.10" y2="435.40" stroke="#ffffff" stroke-width="0.8" stroke-opacity="0.42"/>
<line x1="121.10" y1="448.86" x2="226.10" y2="448.86" stroke="#ffffff" stroke-width="0.8" stroke-opacity="0.42"/>
<text x="128.60" y="376.33" font-size="4.05" text-anchor="middle" fill="#ffffff" stroke="#ffffff" stroke-width="0.1">99.38</text>
<text x="143.60" y="376.33" font-size="4.05" text-anchor="middle" fill="#ffffff" stroke="#ffffff" stroke-width="0.1">99.91</text>
<text x="158.60" y="376.33" font-size="4.05" text-anchor="middle" fill="#ffffff" stroke="#ffffff" stroke-width="0.1">99.91</text>
<text x="173.60" y="376.33" font-size="4.05" text-anchor="middle" fill="#ffffff" stroke="#ffffff" stroke-width="0.1">99.93</text>
<text x="188.60" y="376.33" font-size="4.05" text-anchor="middle" fill="#ffffff" stroke="#ffffff" stroke-width="0.1">99.92</text>
<text x="203.60" y="376.33" font-size="4.05" text-anchor="middle" fill="#ffffff" stroke="#ffffff" stroke-width="0.1">99.94</text>
<text x="218.60" y="376.33" font-size="4.05" text-anchor="middle" fill="#ffffff" stroke="#ffffff" stroke-width="0.1">99.94</text>
<text x="128.60" y="389.79" font-size="4.05" text-anchor="middle" fill="#ffffff" stroke="#ffffff" stroke-width="0.1">76.57</text>
<text x="143.60" y="389.79" font-size="4.05" text-anchor="middle" fill="#ffffff" stroke="#ffffff" stroke-width="0.1">95.77</text>
<text x="158.60" y="389.79" font-size="4.05" text-anchor="middle" fill="#ffffff" stroke="#ffffff" stroke-width="0.1">98.58</text>
<text x="173.60" y="389.79" font-size="4.05" text-anchor="middle" fill="#ffffff" stroke="#ffffff" stroke-width="0.1">98.76</text>
<text x="188.60" y="389.79" font-size="4.05" text-anchor="middle" fill="#ffffff" stroke="#ffffff" stroke-width="0.1">99.23</text>
<text x="203.60" y="389.79" font-size="4.05" text-anchor="middle" fill="#ffffff" stroke="#ffffff" stroke-width="0.1">99.6</text>
<text x="218.60" y="389.79" font-size="4.05" text-anchor="middle" fill="#ffffff" stroke="#ffffff" stroke-width="0.1">99.77</text>
<text x="128.60" y="403.25" font-size="4.05" text-anchor="middle" fill="#333" stroke="#333" stroke-width="0.1">21.99</text>
<text x="143.60" y="403.25" font-size="4.05" text-anchor="middle" fill="#ffffff" stroke="#ffffff" stroke-width="0.1">44.53</text>
<text x="158.60" y="403.25" font-size="4.05" text-anchor="middle" fill="#ffffff" stroke="#ffffff" stroke-width="0.1">53.88</text>
<text x="173.60" y="403.25" font-size="4.05" text-anchor="middle" fill="#ffffff" stroke="#ffffff" stroke-width="0.1">62.94</text>
<text x="188.60" y="403.25" font-size="4.05" text-anchor="middle" fill="#ffffff" stroke="#ffffff" stroke-width="0.1">69.86</text>
<text x="203.60" y="403.25" font-size="4.05" text-anchor="middle" fill="#ffffff" stroke="#ffffff" stroke-width="0.1">73.98</text>
<text x="218.60" y="403.25" font-size="4.05" text-anchor="middle" fill="#ffffff" stroke="#ffffff" stroke-width="0.1">84.13</text>
<text x="128.60" y="416.71" font-size="4.05" text-anchor="middle" fill="#333" stroke="#333" stroke-width="0.1">8.8</text>
<text x="143.60" y="416.71" font-size="4.05" text-anchor="middle" fill="#333" stroke="#333" stroke-width="0.1">31.28</text>
<text x="158.60" y="416.71" font-size="4.05" text-anchor="middle" fill="#ffffff" stroke="#ffffff" stroke-width="0.1">41.77</text>
<text x="173.60" y="416.71" font-size="4.05" text-anchor="middle" fill="#ffffff" stroke="#ffffff" stroke-width="0.1">48.92</text>
<text x="188.60" y="416.71" font-size="4.05" text-anchor="middle" fill="#ffffff" stroke="#ffffff" stroke-width="0.1">59.63</text>
<text x="203.60" y="416.71" font-size="4.05" text-anchor="middle" fill="#ffffff" stroke="#ffffff" stroke-width="0.1">63.03</text>
<text x="218.60" y="416.71" font-size="4.05" text-anchor="middle" fill="#ffffff" stroke="#ffffff" stroke-width="0.1">77.95</text>
<text x="128.60" y="430.17" font-size="4.05" text-anchor="middle" fill="#333" stroke="#333" stroke-width="0.1">7.02</text>
<text x="143.60" y="430.17" font-size="4.05" text-anchor="middle" fill="#333" stroke="#333" stroke-width="0.1">22.01</text>
<text x="158.60" y="430.17" font-size="4.05" text-anchor="middle" fill="#333" stroke="#333" stroke-width="0.1">31.03</text>
<text x="173.60" y="430.17" font-size="4.05" text-anchor="middle" fill="#ffffff" stroke="#ffffff" stroke-width="0.1">40.87</text>
<text x="188.60" y="430.17" font-size="4.05" text-anchor="middle" fill="#ffffff" stroke="#ffffff" stroke-width="0.1">48.74</text>
<text x="203.60" y="430.17" font-size="4.05" text-anchor="middle" fill="#ffffff" stroke="#ffffff" stroke-width="0.1">44.81</text>
<text x="218.60" y="430.17" font-size="4.05" text-anchor="middle" fill="#ffffff" stroke="#ffffff" stroke-width="0.1">73.27</text>
<text x="128.60" y="443.63" font-size="4.05" text-anchor="middle" fill="#333" stroke="#333" stroke-width="0.1">1.94</text>
<text x="143.60" y="443.63" font-size="4.05" text-anchor="middle" fill="#333" stroke="#333" stroke-width="0.1">14.48</text>
<text x="158.60" y="443.63" font-size="4.05" text-anchor="middle" fill="#333" stroke="#333" stroke-width="0.1">14.48</text>
<text x="173.60" y="443.63" font-size="4.05" text-anchor="middle" fill="#333" stroke="#333" stroke-width="0.1">21.34</text>
<text x="188.60" y="443.63" font-size="4.05" text-anchor="middle" fill="#ffffff" stroke="#ffffff" stroke-width="0.1">34.79</text>
<text x="203.60" y="443.63" font-size="4.05" text-anchor="middle" fill="#ffffff" stroke="#ffffff" stroke-width="0.1">40.80</text>
<text x="218.60" y="443.63" font-size="4.05" text-anchor="middle" fill="#ffffff" stroke="#ffffff" stroke-width="0.1">62.1</text>
<text x="128.60" y="457.09" font-size="4.05" text-anchor="middle" fill="#333" stroke="#333" stroke-width="0.1">0.00046</text>
<text x="143.60" y="457.09" font-size="4.05" text-anchor="middle" fill="#333" stroke="#333" stroke-width="0.1">8.71</text>
<text x="158.60" y="457.09" font-size="4.05" text-anchor="middle" fill="#333" stroke="#333" stroke-width="0.1">9.01</text>
<text x="173.60" y="457.09" font-size="4.05" text-anchor="middle" fill="#333" stroke="#333" stroke-width="0.1">11.38</text>
<text x="188.60" y="457.09" font-size="4.05" text-anchor="middle" fill="#333" stroke="#333" stroke-width="0.1">16.31</text>
<text x="203.60" y="457.09" font-size="4.05" text-anchor="middle" fill="#333" stroke="#333" stroke-width="0.1">16.39</text>
<text x="218.60" y="457.09" font-size="4.05" text-anchor="middle" fill="#ffffff" stroke="#ffffff" stroke-width="0.1">47.76</text>
<line x1="117.40" y1="367.80" x2="117.40" y2="466.60" stroke="#1a1a1a" stroke-width="1.2" />
<line x1="116.80" y1="466.00" x2="226.40" y2="466.00" stroke="#1a1a1a" stroke-width="1.2" />
<line x1="114.80" y1="374.83" x2="117.40" y2="374.83" stroke="#1a1a1a" stroke-width="0.9" />
<text x="0" y="0" font-size="6.0" text-anchor="end" fill="#333" transform="translate(112.20 376.93) scale(1.18 1)" stroke="#333" stroke-width="0.2" >3000</text>
<line x1="114.80" y1="388.29" x2="117.40" y2="388.29" stroke="#1a1a1a" stroke-width="0.9" />
<text x="0" y="0" font-size="6.0" text-anchor="end" fill="#333" transform="translate(112.20 390.39) scale(1.18 1)" stroke="#333" stroke-width="0.2" >1000</text>
<line x1="114.80" y1="401.75" x2="117.40" y2="401.75" stroke="#1a1a1a" stroke-width="0.9" />
<text x="0" y="0" font-size="6.0" text-anchor="end" fill="#333" transform="translate(112.20 403.85) scale(1.18 1)" stroke="#333" stroke-width="0.2" >300</text>
<line x1="114.80" y1="415.21" x2="117.40" y2="415.21" stroke="#1a1a1a" stroke-width="0.9" />
<text x="0" y="0" font-size="6.0" text-anchor="end" fill="#333" transform="translate(112.20 417.31) scale(1.18 1)" stroke="#333" stroke-width="0.2" >100</text>
<line x1="114.80" y1="428.67" x2="117.40" y2="428.67" stroke="#1a1a1a" stroke-width="0.9" />
<text x="0" y="0" font-size="6.0" text-anchor="end" fill="#333" transform="translate(112.20 430.77) scale(1.18 1)" stroke="#333" stroke-width="0.2" >30</text>
<line x1="114.80" y1="442.13" x2="117.40" y2="442.13" stroke="#1a1a1a" stroke-width="0.9" />
<text x="0" y="0" font-size="6.0" text-anchor="end" fill="#333" transform="translate(112.20 444.23) scale(1.18 1)" stroke="#333" stroke-width="0.2" >10</text>
<line x1="114.80" y1="455.59" x2="117.40" y2="455.59" stroke="#1a1a1a" stroke-width="0.9" />
<text x="0" y="0" font-size="6.0" text-anchor="end" fill="#333" transform="translate(112.20 457.69) scale(1.18 1)" stroke="#333" stroke-width="0.2" >0</text>
<line x1="128.60" y1="466.00" x2="128.60" y2="468.80" stroke="#1a1a1a" stroke-width="0.9" />
<text x="0" y="0" font-size="6.0" text-anchor="end" fill="#333" transform="translate(128.40 475.60) rotate(-45) scale(1.18 1)" stroke="#333" stroke-width="0.2" >0</text>
<line x1="143.60" y1="466.00" x2="143.60" y2="468.80" stroke="#1a1a1a" stroke-width="0.9" />
<text x="0" y="0" font-size="6.0" text-anchor="end" fill="#333" transform="translate(143.40 475.60) rotate(-45) scale(1.18 1)" stroke="#333" stroke-width="0.2" >10</text>
<line x1="158.60" y1="466.00" x2="158.60" y2="468.80" stroke="#1a1a1a" stroke-width="0.9" />
<text x="0" y="0" font-size="6.0" text-anchor="end" fill="#333" transform="translate(158.40 475.60) rotate(-45) scale(1.18 1)" stroke="#333" stroke-width="0.2" >30</text>
<line x1="173.60" y1="466.00" x2="173.60" y2="468.80" stroke="#1a1a1a" stroke-width="0.9" />
<text x="0" y="0" font-size="6.0" text-anchor="end" fill="#333" transform="translate(173.40 475.60) rotate(-45) scale(1.18 1)" stroke="#333" stroke-width="0.2" >100</text>
<line x1="188.60" y1="466.00" x2="188.60" y2="468.80" stroke="#1a1a1a" stroke-width="0.9" />
<text x="0" y="0" font-size="6.0" text-anchor="end" fill="#333" transform="translate(188.40 475.60) rotate(-45) scale(1.18 1)" stroke="#333" stroke-width="0.2" >300</text>
<line x1="203.60" y1="466.00" x2="203.60" y2="468.80" stroke="#1a1a1a" stroke-width="0.9" />
<text x="0" y="0" font-size="6.0" text-anchor="end" fill="#333" transform="translate(203.40 475.60) rotate(-45) scale(1.18 1)" stroke="#333" stroke-width="0.2" >1000</text>
<line x1="218.60" y1="466.00" x2="218.60" y2="468.80" stroke="#1a1a1a" stroke-width="0.9" />
<text x="0" y="0" font-size="6.0" text-anchor="end" fill="#333" transform="translate(218.40 475.60) rotate(-45) scale(1.18 1)" stroke="#333" stroke-width="0.2" >3000</text>
<text x="173.15" y="362.40" font-size="8.6" text-anchor="middle" fill="#111" textLength="22.10" lengthAdjust="spacingAndGlyphs"  stroke="#111" stroke-width="0.2">THP-1</text>
<text x="91.30" y="415.60" font-size="8.4" text-anchor="middle" fill="#222" textLength="42.40" lengthAdjust="spacingAndGlyphs" transform="rotate(-90 91.30 415.60)" stroke="#222" stroke-width="0.42">CHR-6494 (nM)</text>
<text x="173.55" y="496.50" font-size="8.4" text-anchor="middle" fill="#222" textLength="44.50" lengthAdjust="spacingAndGlyphs" stroke="#222" stroke-width="0.42">Venetoclax (nM)</text>
<defs><linearGradient id="hg394" x1="0" y1="0" x2="0" y2="1"><stop offset="0.000" stop-color="#c80c34"/><stop offset="0.025" stop-color="#c90d35"/><stop offset="0.050" stop-color="#c90f35"/><stop offset="0.075" stop-color="#ca1036"/><stop offset="0.100" stop-color="#cd183a"/><stop offset="0.125" stop-color="#d02240"/><stop offset="0.150" stop-color="#d73448"/><stop offset="0.175" stop-color="#dc4455"/><stop offset="0.200" stop-color="#e25562"/><stop offset="0.225" stop-color="#e6646d"/><stop offset="0.250" stop-color="#e97378"/><stop offset="0.275" stop-color="#ec8488"/><stop offset="0.300" stop-color="#ef9698"/><stop offset="0.325" stop-color="#f2a8a8"/><stop offset="0.350" stop-color="#f4b9b9"/><stop offset="0.375" stop-color="#f6c8c8"/><stop offset="0.400" stop-color="#f8d7d6"/><stop offset="0.425" stop-color="#fae0df"/><stop offset="0.450" stop-color="#fbe9e8"/><stop offset="0.475" stop-color="#fdf4f4"/><stop offset="0.500" stop-color="#ffffff"/><stop offset="0.525" stop-color="#f6f8fc"/><stop offset="0.550" stop-color="#ecf1f8"/><stop offset="0.575" stop-color="#e0e8f4"/><stop offset="0.600" stop-color="#d4e0ef"/><stop offset="0.625" stop-color="#c8d7eb"/><stop offset="0.650" stop-color="#b6cae4"/><stop offset="0.675" stop-color="#a4bddd"/><stop offset="0.700" stop-color="#92b0d6"/><stop offset="0.725" stop-color="#80a3cf"/><stop offset="0.750" stop-color="#6e96c8"/><stop offset="0.775" stop-color="#628dc1"/><stop offset="0.800" stop-color="#5684ba"/><stop offset="0.825" stop-color="#4a7bb3"/><stop offset="0.850" stop-color="#3e72ac"/><stop offset="0.875" stop-color="#3269a5"/><stop offset="0.900" stop-color="#2e64a0"/><stop offset="0.925" stop-color="#295f9b"/><stop offset="0.950" stop-color="#255a96"/><stop offset="0.975" stop-color="#205591"/><stop offset="1.000" stop-color="#1c508c"/></linearGradient></defs>
<rect x="232.00" y="394.90" width="8.20" height="52.80" fill="url(#hg394)" />
<text x="232.00" y="390.30" font-size="6.3" text-anchor="start" fill="#333" textLength="37.00" lengthAdjust="spacingAndGlyphs"  stroke="#333" stroke-width="0.2">Inhibition (%)</text>
<text x="243.80" y="399.70" font-size="6.8" text-anchor="start" fill="#333"  stroke="#333" stroke-width="0.2">100</text>
<text x="243.80" y="411.70" font-size="6.8" text-anchor="start" fill="#333"  stroke="#333" stroke-width="0.2">50</text>
<text x="243.80" y="423.70" font-size="6.8" text-anchor="start" fill="#333"  stroke="#333" stroke-width="0.2">0</text>
<text x="243.80" y="435.70" font-size="6.8" text-anchor="start" fill="#333"  stroke="#333" stroke-width="0.2">−50</text>
<text x="243.80" y="447.70" font-size="6.8" text-anchor="start" fill="#333"  stroke="#333" stroke-width="0.2">−100</text>
<text x="75.00" y="521.80" font-size="12.5" text-anchor="start" fill="#000" font-weight="bold"  stroke="#000" stroke-width="0.8">F</text>
<rect x="121.10" y="537.10" width="15.00" height="13.46" fill="#c80c34" />
<rect x="136.10" y="537.10" width="15.00" height="13.46" fill="#c80c34" />
<rect x="151.10" y="537.10" width="15.00" height="13.46" fill="#c80c34" />
<rect x="166.10" y="537.10" width="15.00" height="13.46" fill="#c80c34" />
<rect x="181.10" y="537.10" width="15.00" height="13.46" fill="#c80c34" />
<rect x="196.10" y="537.10" width="15.00" height="13.46" fill="#c80c34" />
<rect x="211.10" y="537.10" width="15.00" height="13.46" fill="#c80c34" />
<rect x="121.10" y="550.56" width="15.00" height="13.46" fill="#d12441" />
<rect x="136.10" y="550.56" width="15.00" height="13.46" fill="#c90f35" />
<rect x="151.10" y="550.56" width="15.00" height="13.46" fill="#c90d35" />
<rect x="166.10" y="550.56" width="15.00" height="13.46" fill="#c90d35" />
<rect x="181.10" y="550.56" width="15.00" height="13.46" fill="#c80d34" />
<rect x="196.10" y="550.56" width="15.00" height="13.46" fill="#c80d34" />
<rect x="211.10" y="550.56" width="15.00" height="13.46" fill="#c80c34" />
<rect x="121.10" y="564.02" width="15.00" height="13.46" fill="#fae5e4" />
<rect x="136.10" y="564.02" width="15.00" height="13.46" fill="#f8dad9" />
<rect x="151.10" y="564.02" width="15.00" height="13.46" fill="#f8d8d7" />
<rect x="166.10" y="564.02" width="15.00" height="13.46" fill="#f7d2d1" />
<rect x="181.10" y="564.02" width="15.00" height="13.46" fill="#f7cece" />
<rect x="196.10" y="564.02" width="15.00" height="13.46" fill="#f8d3d3" />
<rect x="211.10" y="564.02" width="15.00" height="13.46" fill="#f6c5c5" />
<rect x="121.10" y="577.48" width="15.00" height="13.46" fill="#fefbfb" />
<rect x="136.10" y="577.48" width="15.00" height="13.46" fill="#fdf5f5" />
<rect x="151.10" y="577.48" width="15.00" height="13.46" fill="#fdf5f5" />
<rect x="166.10" y="577.48" width="15.00" height="13.46" fill="#fcf1f0" />
<rect x="181.10" y="577.48" width="15.00" height="13.46" fill="#fcefee" />
<rect x="196.10" y="577.48" width="15.00" height="13.46" fill="#fef7f7" />
<rect x="211.10" y="577.48" width="15.00" height="13.46" fill="#fae5e4" />
<rect x="121.10" y="590.94" width="15.00" height="13.46" fill="#f8fafc" />
<rect x="136.10" y="590.94" width="15.00" height="13.46" fill="#fafbfd" />
<rect x="151.10" y="590.94" width="15.00" height="13.46" fill="#ffffff" />
<rect x="166.10" y="590.94" width="15.00" height="13.46" fill="#fffdfd" />
<rect x="181.10" y="590.94" width="15.00" height="13.46" fill="#ffffff" />
<rect x="196.10" y="590.94" width="15.00" height="13.46" fill="#fdfefe" />
<rect x="211.10" y="590.94" width="15.00" height="13.46" fill="#fdf3f2" />
<rect x="121.10" y="604.40" width="15.00" height="13.46" fill="#f8fafc" />
<rect x="136.10" y="604.40" width="15.00" height="13.46" fill="#f8fafc" />
<rect x="151.10" y="604.40" width="15.00" height="13.46" fill="#fdfefe" />
<rect x="166.10" y="604.40" width="15.00" height="13.46" fill="#fefbfb" />
<rect x="181.10" y="604.40" width="15.00" height="13.46" fill="#fdfefe" />
<rect x="196.10" y="604.40" width="15.00" height="13.46" fill="#fdfefe" />
<rect x="211.10" y="604.40" width="15.00" height="13.46" fill="#fdf5f5" />
<rect x="121.10" y="617.86" width="15.00" height="13.46" fill="#ffffff" />
<rect x="136.10" y="617.86" width="15.00" height="13.46" fill="#fef9f9" />
<rect x="151.10" y="617.86" width="15.00" height="13.46" fill="#fcfcfe" />
<rect x="166.10" y="617.86" width="15.00" height="13.46" fill="#fef7f7" />
<rect x="181.10" y="617.86" width="15.00" height="13.46" fill="#fffdfd" />
<rect x="196.10" y="617.86" width="15.00" height="13.46" fill="#fdfefe" />
<rect x="211.10" y="617.86" width="15.00" height="13.46" fill="#fdf3f2" />
<line x1="136.10" y1="537.10" x2="136.10" y2="631.32" stroke="#ffffff" stroke-width="0.8" stroke-opacity="0.42"/>
<line x1="151.10" y1="537.10" x2="151.10" y2="631.32" stroke="#ffffff" stroke-width="0.8" stroke-opacity="0.42"/>
<line x1="166.10" y1="537.10" x2="166.10" y2="631.32" stroke="#ffffff" stroke-width="0.8" stroke-opacity="0.42"/>
<line x1="181.10" y1="537.10" x2="181.10" y2="631.32" stroke="#ffffff" stroke-width="0.8" stroke-opacity="0.42"/>
<line x1="196.10" y1="537.10" x2="196.10" y2="631.32" stroke="#ffffff" stroke-width="0.8" stroke-opacity="0.42"/>
<line x1="211.10" y1="537.10" x2="211.10" y2="631.32" stroke="#ffffff" stroke-width="0.8" stroke-opacity="0.42"/>
<line x1="121.10" y1="550.56" x2="226.10" y2="550.56" stroke="#ffffff" stroke-width="0.8" stroke-opacity="0.42"/>
<line x1="121.10" y1="564.02" x2="226.10" y2="564.02" stroke="#ffffff" stroke-width="0.8" stroke-opacity="0.42"/>
<line x1="121.10" y1="577.48" x2="226.10" y2="577.48" stroke="#ffffff" stroke-width="0.8" stroke-opacity="0.42"/>
<line x1="121.10" y1="590.94" x2="226.10" y2="590.94" stroke="#ffffff" stroke-width="0.8" stroke-opacity="0.42"/>
<line x1="121.10" y1="604.40" x2="226.10" y2="604.40" stroke="#ffffff" stroke-width="0.8" stroke-opacity="0.42"/>
<line x1="121.10" y1="617.86" x2="226.10" y2="617.86" stroke="#ffffff" stroke-width="0.8" stroke-opacity="0.42"/>
<text x="128.60" y="545.33" font-size="4.05" text-anchor="middle" fill="#ffffff" stroke="#ffffff" stroke-width="0.1">99.51</text>
<text x="143.60" y="545.33" font-size="4.05" text-anchor="middle" fill="#ffffff" stroke="#ffffff" stroke-width="0.1">99.90</text>
<text x="158.60" y="545.33" font-size="4.05" text-anchor="middle" fill="#ffffff" stroke="#ffffff" stroke-width="0.1">99.97</text>
<text x="173.60" y="545.33" font-size="4.05" text-anchor="middle" fill="#ffffff" stroke="#ffffff" stroke-width="0.1">99.98</text>
<text x="188.60" y="545.33" font-size="4.05" text-anchor="middle" fill="#ffffff" stroke="#ffffff" stroke-width="0.1">99.98</text>
<text x="203.60" y="545.33" font-size="4.05" text-anchor="middle" fill="#ffffff" stroke="#ffffff" stroke-width="0.1">99.98</text>
<text x="218.60" y="545.33" font-size="4.05" text-anchor="middle" fill="#ffffff" stroke="#ffffff" stroke-width="0.1">99.97</text>
<text x="128.60" y="558.79" font-size="4.05" text-anchor="middle" fill="#ffffff" stroke="#ffffff" stroke-width="0.1">74.39</text>
<text x="143.60" y="558.79" font-size="4.05" text-anchor="middle" fill="#ffffff" stroke="#ffffff" stroke-width="0.1">89.78</text>
<text x="158.60" y="558.79" font-size="4.05" text-anchor="middle" fill="#ffffff" stroke="#ffffff" stroke-width="0.1">94.41</text>
<text x="173.60" y="558.79" font-size="4.05" text-anchor="middle" fill="#ffffff" stroke="#ffffff" stroke-width="0.1">96.11</text>
<text x="188.60" y="558.79" font-size="4.05" text-anchor="middle" fill="#ffffff" stroke="#ffffff" stroke-width="0.1">97.72</text>
<text x="203.60" y="558.79" font-size="4.05" text-anchor="middle" fill="#ffffff" stroke="#ffffff" stroke-width="0.1">97.64</text>
<text x="218.60" y="558.79" font-size="4.05" text-anchor="middle" fill="#ffffff" stroke="#ffffff" stroke-width="0.1">98.74</text>
<text x="128.60" y="572.25" font-size="4.05" text-anchor="middle" fill="#333" stroke="#333" stroke-width="0.1">12.24</text>
<text x="143.60" y="572.25" font-size="4.05" text-anchor="middle" fill="#333" stroke="#333" stroke-width="0.1">18.5</text>
<text x="158.60" y="572.25" font-size="4.05" text-anchor="middle" fill="#333" stroke="#333" stroke-width="0.1">19.33</text>
<text x="173.60" y="572.25" font-size="4.05" text-anchor="middle" fill="#333" stroke="#333" stroke-width="0.1">21.74</text>
<text x="188.60" y="572.25" font-size="4.05" text-anchor="middle" fill="#333" stroke="#333" stroke-width="0.1">22.87</text>
<text x="203.60" y="572.25" font-size="4.05" text-anchor="middle" fill="#333" stroke="#333" stroke-width="0.1">21.19</text>
<text x="218.60" y="572.25" font-size="4.05" text-anchor="middle" fill="#333" stroke="#333" stroke-width="0.1">25.88</text>
<text x="128.60" y="585.71" font-size="4.05" text-anchor="middle" fill="#333" stroke="#333" stroke-width="0.1">1.82</text>
<text x="143.60" y="585.71" font-size="4.05" text-anchor="middle" fill="#333" stroke="#333" stroke-width="0.1">4.55</text>
<text x="158.60" y="585.71" font-size="4.05" text-anchor="middle" fill="#333" stroke="#333" stroke-width="0.1">4.54</text>
<text x="173.60" y="585.71" font-size="4.05" text-anchor="middle" fill="#333" stroke="#333" stroke-width="0.1">6.36</text>
<text x="188.60" y="585.71" font-size="4.05" text-anchor="middle" fill="#333" stroke="#333" stroke-width="0.1">7.27</text>
<text x="203.60" y="585.71" font-size="4.05" text-anchor="middle" fill="#333" stroke="#333" stroke-width="0.1">3.64</text>
<text x="218.60" y="585.71" font-size="4.05" text-anchor="middle" fill="#333" stroke="#333" stroke-width="0.1">12.48</text>
<text x="128.60" y="599.17" font-size="4.05" text-anchor="middle" fill="#333" stroke="#333" stroke-width="0.1">−3.64</text>
<text x="143.60" y="599.17" font-size="4.05" text-anchor="middle" fill="#333" stroke="#333" stroke-width="0.1">−2.73</text>
<text x="158.60" y="599.17" font-size="4.05" text-anchor="middle" fill="#333" stroke="#333" stroke-width="0.1">0.0007</text>
<text x="173.60" y="599.17" font-size="4.05" text-anchor="middle" fill="#333" stroke="#333" stroke-width="0.1">0.91</text>
<text x="188.60" y="599.17" font-size="4.05" text-anchor="middle" fill="#333" stroke="#333" stroke-width="0.1">0.0005</text>
<text x="203.60" y="599.17" font-size="4.05" text-anchor="middle" fill="#333" stroke="#333" stroke-width="0.1">−0.91</text>
<text x="218.60" y="599.17" font-size="4.05" text-anchor="middle" fill="#333" stroke="#333" stroke-width="0.1">5.45</text>
<text x="128.60" y="612.63" font-size="4.05" text-anchor="middle" fill="#333" stroke="#333" stroke-width="0.1">−3.64</text>
<text x="143.60" y="612.63" font-size="4.05" text-anchor="middle" fill="#333" stroke="#333" stroke-width="0.1">−3.64</text>
<text x="158.60" y="612.63" font-size="4.05" text-anchor="middle" fill="#333" stroke="#333" stroke-width="0.1">−0.91</text>
<text x="173.60" y="612.63" font-size="4.05" text-anchor="middle" fill="#333" stroke="#333" stroke-width="0.1">1.82</text>
<text x="188.60" y="612.63" font-size="4.05" text-anchor="middle" fill="#333" stroke="#333" stroke-width="0.1">−0.91</text>
<text x="203.60" y="612.63" font-size="4.05" text-anchor="middle" fill="#333" stroke="#333" stroke-width="0.1">−0.91</text>
<text x="218.60" y="612.63" font-size="4.05" text-anchor="middle" fill="#333" stroke="#333" stroke-width="0.1">4.54</text>
<text x="128.60" y="626.09" font-size="4.05" text-anchor="middle" fill="#333" stroke="#333" stroke-width="0.1">0.00046</text>
<text x="143.60" y="626.09" font-size="4.05" text-anchor="middle" fill="#333" stroke="#333" stroke-width="0.1">2.73</text>
<text x="158.60" y="626.09" font-size="4.05" text-anchor="middle" fill="#333" stroke="#333" stroke-width="0.1">−1.82</text>
<text x="173.60" y="626.09" font-size="4.05" text-anchor="middle" fill="#333" stroke="#333" stroke-width="0.1">3.64</text>
<text x="188.60" y="626.09" font-size="4.05" text-anchor="middle" fill="#333" stroke="#333" stroke-width="0.1">0.91</text>
<text x="203.60" y="626.09" font-size="4.05" text-anchor="middle" fill="#333" stroke="#333" stroke-width="0.1">−0.91</text>
<text x="218.60" y="626.09" font-size="4.05" text-anchor="middle" fill="#333" stroke="#333" stroke-width="0.1">5.45</text>
<line x1="117.40" y1="536.80" x2="117.40" y2="635.60" stroke="#1a1a1a" stroke-width="1.2" />
<line x1="116.80" y1="635.00" x2="226.40" y2="635.00" stroke="#1a1a1a" stroke-width="1.2" />
<line x1="114.80" y1="543.83" x2="117.40" y2="543.83" stroke="#1a1a1a" stroke-width="0.9" />
<text x="0" y="0" font-size="6.0" text-anchor="end" fill="#333" transform="translate(112.20 545.93) scale(1.18 1)" stroke="#333" stroke-width="0.2" >3000</text>
<line x1="114.80" y1="557.29" x2="117.40" y2="557.29" stroke="#1a1a1a" stroke-width="0.9" />
<text x="0" y="0" font-size="6.0" text-anchor="end" fill="#333" transform="translate(112.20 559.39) scale(1.18 1)" stroke="#333" stroke-width="0.2" >1000</text>
<line x1="114.80" y1="570.75" x2="117.40" y2="570.75" stroke="#1a1a1a" stroke-width="0.9" />
<text x="0" y="0" font-size="6.0" text-anchor="end" fill="#333" transform="translate(112.20 572.85) scale(1.18 1)" stroke="#333" stroke-width="0.2" >300</text>
<line x1="114.80" y1="584.21" x2="117.40" y2="584.21" stroke="#1a1a1a" stroke-width="0.9" />
<text x="0" y="0" font-size="6.0" text-anchor="end" fill="#333" transform="translate(112.20 586.31) scale(1.18 1)" stroke="#333" stroke-width="0.2" >100</text>
<line x1="114.80" y1="597.67" x2="117.40" y2="597.67" stroke="#1a1a1a" stroke-width="0.9" />
<text x="0" y="0" font-size="6.0" text-anchor="end" fill="#333" transform="translate(112.20 599.77) scale(1.18 1)" stroke="#333" stroke-width="0.2" >30</text>
<line x1="114.80" y1="611.13" x2="117.40" y2="611.13" stroke="#1a1a1a" stroke-width="0.9" />
<text x="0" y="0" font-size="6.0" text-anchor="end" fill="#333" transform="translate(112.20 613.23) scale(1.18 1)" stroke="#333" stroke-width="0.2" >10</text>
<line x1="114.80" y1="624.59" x2="117.40" y2="624.59" stroke="#1a1a1a" stroke-width="0.9" />
<text x="0" y="0" font-size="6.0" text-anchor="end" fill="#333" transform="translate(112.20 626.69) scale(1.18 1)" stroke="#333" stroke-width="0.2" >0</text>
<line x1="128.60" y1="635.00" x2="128.60" y2="637.80" stroke="#1a1a1a" stroke-width="0.9" />
<text x="0" y="0" font-size="6.0" text-anchor="end" fill="#333" transform="translate(128.40 644.60) rotate(-45) scale(1.18 1)" stroke="#333" stroke-width="0.2" >0</text>
<line x1="143.60" y1="635.00" x2="143.60" y2="637.80" stroke="#1a1a1a" stroke-width="0.9" />
<text x="0" y="0" font-size="6.0" text-anchor="end" fill="#333" transform="translate(143.40 644.60) rotate(-45) scale(1.18 1)" stroke="#333" stroke-width="0.2" >10</text>
<line x1="158.60" y1="635.00" x2="158.60" y2="637.80" stroke="#1a1a1a" stroke-width="0.9" />
<text x="0" y="0" font-size="6.0" text-anchor="end" fill="#333" transform="translate(158.40 644.60) rotate(-45) scale(1.18 1)" stroke="#333" stroke-width="0.2" >30</text>
<line x1="173.60" y1="635.00" x2="173.60" y2="637.80" stroke="#1a1a1a" stroke-width="0.9" />
<text x="0" y="0" font-size="6.0" text-anchor="end" fill="#333" transform="translate(173.40 644.60) rotate(-45) scale(1.18 1)" stroke="#333" stroke-width="0.2" >100</text>
<line x1="188.60" y1="635.00" x2="188.60" y2="637.80" stroke="#1a1a1a" stroke-width="0.9" />
<text x="0" y="0" font-size="6.0" text-anchor="end" fill="#333" transform="translate(188.40 644.60) rotate(-45) scale(1.18 1)" stroke="#333" stroke-width="0.2" >300</text>
<line x1="203.60" y1="635.00" x2="203.60" y2="637.80" stroke="#1a1a1a" stroke-width="0.9" />
<text x="0" y="0" font-size="6.0" text-anchor="end" fill="#333" transform="translate(203.40 644.60) rotate(-45) scale(1.18 1)" stroke="#333" stroke-width="0.2" >1000</text>
<line x1="218.60" y1="635.00" x2="218.60" y2="637.80" stroke="#1a1a1a" stroke-width="0.9" />
<text x="0" y="0" font-size="6.0" text-anchor="end" fill="#333" transform="translate(218.40 644.60) rotate(-45) scale(1.18 1)" stroke="#333" stroke-width="0.2" >3000</text>
<text x="171.80" y="531.40" font-size="8.6" text-anchor="middle" fill="#111" textLength="40.00" lengthAdjust="spacingAndGlyphs"  stroke="#111" stroke-width="0.2">OCI-AML3</text>
<text x="91.30" y="584.60" font-size="8.4" text-anchor="middle" fill="#222" textLength="42.40" lengthAdjust="spacingAndGlyphs" transform="rotate(-90 91.30 584.60)" stroke="#222" stroke-width="0.42">CHR-6494 (nM)</text>
<text x="173.55" y="665.50" font-size="8.4" text-anchor="middle" fill="#222" textLength="44.50" lengthAdjust="spacingAndGlyphs" stroke="#222" stroke-width="0.42">Venetoclax (nM)</text>
<defs><linearGradient id="hg563" x1="0" y1="0" x2="0" y2="1"><stop offset="0.000" stop-color="#c80c34"/><stop offset="0.025" stop-color="#c90d35"/><stop offset="0.050" stop-color="#c90f35"/><stop offset="0.075" stop-color="#ca1036"/><stop offset="0.100" stop-color="#cd183a"/><stop offset="0.125" stop-color="#d02240"/><stop offset="0.150" stop-color="#d73448"/><stop offset="0.175" stop-color="#dc4455"/><stop offset="0.200" stop-color="#e25562"/><stop offset="0.225" stop-color="#e6646d"/><stop offset="0.250" stop-color="#e97378"/><stop offset="0.275" stop-color="#ec8488"/><stop offset="0.300" stop-color="#ef9698"/><stop offset="0.325" stop-color="#f2a8a8"/><stop offset="0.350" stop-color="#f4b9b9"/><stop offset="0.375" stop-color="#f6c8c8"/><stop offset="0.400" stop-color="#f8d7d6"/><stop offset="0.425" stop-color="#fae0df"/><stop offset="0.450" stop-color="#fbe9e8"/><stop offset="0.475" stop-color="#fdf4f4"/><stop offset="0.500" stop-color="#ffffff"/><stop offset="0.525" stop-color="#f6f8fc"/><stop offset="0.550" stop-color="#ecf1f8"/><stop offset="0.575" stop-color="#e0e8f4"/><stop offset="0.600" stop-color="#d4e0ef"/><stop offset="0.625" stop-color="#c8d7eb"/><stop offset="0.650" stop-color="#b6cae4"/><stop offset="0.675" stop-color="#a4bddd"/><stop offset="0.700" stop-color="#92b0d6"/><stop offset="0.725" stop-color="#80a3cf"/><stop offset="0.750" stop-color="#6e96c8"/><stop offset="0.775" stop-color="#628dc1"/><stop offset="0.800" stop-color="#5684ba"/><stop offset="0.825" stop-color="#4a7bb3"/><stop offset="0.850" stop-color="#3e72ac"/><stop offset="0.875" stop-color="#3269a5"/><stop offset="0.900" stop-color="#2e64a0"/><stop offset="0.925" stop-color="#295f9b"/><stop offset="0.950" stop-color="#255a96"/><stop offset="0.975" stop-color="#205591"/><stop offset="1.000" stop-color="#1c508c"/></linearGradient></defs>
<rect x="232.00" y="563.90" width="8.20" height="52.80" fill="url(#hg563)" />
<text x="232.00" y="559.30" font-size="6.3" text-anchor="start" fill="#333" textLength="37.00" lengthAdjust="spacingAndGlyphs"  stroke="#333" stroke-width="0.2">Inhibition (%)</text>
<text x="243.80" y="568.70" font-size="6.8" text-anchor="start" fill="#333"  stroke="#333" stroke-width="0.2">100</text>
<text x="243.80" y="580.70" font-size="6.8" text-anchor="start" fill="#333"  stroke="#333" stroke-width="0.2">50</text>
<text x="243.80" y="592.70" font-size="6.8" text-anchor="start" fill="#333"  stroke="#333" stroke-width="0.2">0</text>
<text x="243.80" y="604.70" font-size="6.8" text-anchor="start" fill="#333"  stroke="#333" stroke-width="0.2">−50</text>
<text x="243.80" y="616.70" font-size="6.8" text-anchor="start" fill="#333"  stroke="#333" stroke-width="0.2">−100</text>
<defs><clipPath id="cD"><rect x="377.6" y="195.3" width="92.19999999999999" height="97.69999999999999"/></clipPath></defs>
<rect x="377.60" y="195.30" width="92.20" height="97.70" fill="#f7cdc8" />
<g clip-path="url(#cD)">
<path d="M388.80,234.00 C388.80,229.83 388.50,224.92 388.90,221.00 C389.30,217.08 390.10,213.13 391.20,210.50 C392.30,207.87 393.72,206.38 395.50,205.20 C397.28,204.02 398.58,203.22 401.90,203.40 C405.22,203.58 410.27,205.33 415.40,206.30 C420.53,207.27 426.62,208.23 432.70,209.20 C438.78,210.17 445.68,211.13 451.90,212.10 C458.12,213.07 465.32,214.35 470.00,215.00 C474.68,215.65 478.33,205.83 480.00,216.00 C481.67,226.17 481.67,266.23 480.00,276.00 C478.33,285.77 474.68,275.95 470.00,274.60 C465.32,273.25 458.12,269.98 451.90,267.90 C445.68,265.82 438.78,263.38 432.70,262.10 C426.62,260.82 420.22,260.68 415.40,260.20 C410.58,259.72 407.12,259.85 403.80,259.20 C400.48,258.55 397.70,257.58 395.50,256.30 C393.30,255.02 391.70,253.22 390.60,251.50 C389.50,249.78 389.20,248.92 388.90,246.00 C388.60,243.08 388.80,238.17 388.80,234.00 Z" fill="#e46464" stroke="#f4a0a0" stroke-width="0.7" stroke-opacity="0.8"/>
<path d="M398.10,231.30 C398.07,229.13 398.45,226.77 399.40,225.20 C400.35,223.63 401.13,222.15 403.80,221.90 C406.47,221.65 410.58,222.77 415.40,223.70 C420.22,224.63 426.62,226.23 432.70,227.50 C438.78,228.77 445.68,230.02 451.90,231.30 C458.12,232.58 465.32,234.42 470.00,235.20 C474.68,235.98 478.33,232.87 480.00,236.00 C481.67,239.13 481.67,251.08 480.00,254.00 C478.33,256.92 474.68,254.38 470.00,253.50 C465.32,252.62 458.12,250.15 451.90,248.70 C445.68,247.25 438.78,245.77 432.70,244.80 C426.62,243.83 420.22,243.53 415.40,242.90 C410.58,242.27 406.43,241.78 403.80,241.00 C401.17,240.22 400.55,239.82 399.60,238.20 C398.65,236.58 398.13,233.47 398.10,231.30 Z" fill="#c80f32" stroke="#f4a0a0" stroke-width="0.7" stroke-opacity="0.8"/>
<line x1="379.40" y1="195.30" x2="379.40" y2="293.00" stroke="#a07070" stroke-width="0.45" stroke-dasharray="0.7 1.1" stroke-opacity="0.6"/>
<line x1="397.40" y1="195.30" x2="397.40" y2="293.00" stroke="#a07070" stroke-width="0.45" stroke-dasharray="0.7 1.1" stroke-opacity="0.6"/>
<line x1="415.40" y1="195.30" x2="415.40" y2="293.00" stroke="#a07070" stroke-width="0.45" stroke-dasharray="0.7 1.1" stroke-opacity="0.6"/>
<line x1="433.40" y1="195.30" x2="433.40" y2="293.00" stroke="#a07070" stroke-width="0.45" stroke-dasharray="0.7 1.1" stroke-opacity="0.6"/>
<line x1="451.40" y1="195.30" x2="451.40" y2="293.00" stroke="#a07070" stroke-width="0.45" stroke-dasharray="0.7 1.1" stroke-opacity="0.6"/>
<line x1="469.40" y1="195.30" x2="469.40" y2="293.00" stroke="#a07070" stroke-width="0.45" stroke-dasharray="0.7 1.1" stroke-opacity="0.6"/>
<line x1="377.60" y1="196.30" x2="469.80" y2="196.30" stroke="#a07070" stroke-width="0.45" stroke-dasharray="0.7 1.1" stroke-opacity="0.6"/>
<line x1="377.60" y1="215.40" x2="469.80" y2="215.40" stroke="#a07070" stroke-width="0.45" stroke-dasharray="0.7 1.1" stroke-opacity="0.6"/>
<line x1="377.60" y1="234.50" x2="469.80" y2="234.50" stroke="#a07070" stroke-width="0.45" stroke-dasharray="0.7 1.1" stroke-opacity="0.6"/>
<line x1="377.60" y1="253.60" x2="469.80" y2="253.60" stroke="#a07070" stroke-width="0.45" stroke-dasharray="0.7 1.1" stroke-opacity="0.6"/>
<line x1="377.60" y1="272.70" x2="469.80" y2="272.70" stroke="#a07070" stroke-width="0.45" stroke-dasharray="0.7 1.1" stroke-opacity="0.6"/>
<line x1="377.60" y1="291.80" x2="469.80" y2="291.80" stroke="#a07070" stroke-width="0.45" stroke-dasharray="0.7 1.1" stroke-opacity="0.6"/>
</g>
<line x1="376.60" y1="194.80" x2="376.60" y2="295.70" stroke="#1a1a1a" stroke-width="1.2" />
<line x1="376.00" y1="295.10" x2="470.30" y2="295.10" stroke="#1a1a1a" stroke-width="1.2" />
<line x1="374.00" y1="196.30" x2="376.60" y2="196.30" stroke="#1a1a1a" stroke-width="0.9" />
<text x="0" y="0" font-size="6.3" text-anchor="end" fill="#333" transform="translate(370.60 198.35) scale(1.07 1)" stroke="#333" stroke-width="0.2" >300</text>
<line x1="374.00" y1="215.40" x2="376.60" y2="215.40" stroke="#1a1a1a" stroke-width="0.9" />
<text x="0" y="0" font-size="6.3" text-anchor="end" fill="#333" transform="translate(370.60 217.45) scale(1.07 1)" stroke="#333" stroke-width="0.2" >100</text>
<line x1="374.00" y1="234.50" x2="376.60" y2="234.50" stroke="#1a1a1a" stroke-width="0.9" />
<text x="0" y="0" font-size="6.3" text-anchor="end" fill="#333" transform="translate(370.60 236.55) scale(1.07 1)" stroke="#333" stroke-width="0.2" >30</text>
<line x1="374.00" y1="253.60" x2="376.60" y2="253.60" stroke="#1a1a1a" stroke-width="0.9" />
<text x="0" y="0" font-size="6.3" text-anchor="end" fill="#333" transform="translate(370.60 255.65) scale(1.07 1)" stroke="#333" stroke-width="0.2" >10</text>
<line x1="374.00" y1="272.70" x2="376.60" y2="272.70" stroke="#1a1a1a" stroke-width="0.9" />
<text x="0" y="0" font-size="6.3" text-anchor="end" fill="#333" transform="translate(370.60 274.75) scale(1.07 1)" stroke="#333" stroke-width="0.2" >3</text>
<line x1="374.00" y1="291.80" x2="376.60" y2="291.80" stroke="#1a1a1a" stroke-width="0.9" />
<text x="0" y="0" font-size="6.3" text-anchor="end" fill="#333" transform="translate(370.60 293.85) scale(1.07 1)" stroke="#333" stroke-width="0.2" >0</text>
<line x1="379.40" y1="295.10" x2="379.40" y2="297.50" stroke="#1a1a1a" stroke-width="0.9" />
<text x="0" y="0" font-size="6.3" text-anchor="middle" fill="#333" transform="translate(379.40 306.30) scale(1.07 1)" stroke="#333" stroke-width="0.2" >0</text>
<line x1="397.40" y1="295.10" x2="397.40" y2="297.50" stroke="#1a1a1a" stroke-width="0.9" />
<text x="0" y="0" font-size="6.3" text-anchor="middle" fill="#333" transform="translate(397.40 306.30) scale(1.07 1)" stroke="#333" stroke-width="0.2" >3</text>
<line x1="415.40" y1="295.10" x2="415.40" y2="297.50" stroke="#1a1a1a" stroke-width="0.9" />
<text x="0" y="0" font-size="6.3" text-anchor="middle" fill="#333" transform="translate(415.40 306.30) scale(1.07 1)" stroke="#333" stroke-width="0.2" >10</text>
<line x1="433.40" y1="295.10" x2="433.40" y2="297.50" stroke="#1a1a1a" stroke-width="0.9" />
<text x="0" y="0" font-size="6.3" text-anchor="middle" fill="#333" transform="translate(433.40 306.30) scale(1.07 1)" stroke="#333" stroke-width="0.2" >30</text>
<line x1="451.40" y1="295.10" x2="451.40" y2="297.50" stroke="#1a1a1a" stroke-width="0.9" />
<text x="0" y="0" font-size="6.3" text-anchor="middle" fill="#333" transform="translate(451.40 306.30) scale(1.07 1)" stroke="#333" stroke-width="0.2" >100</text>
<line x1="469.40" y1="295.10" x2="469.40" y2="297.50" stroke="#1a1a1a" stroke-width="0.9" />
<text x="0" y="0" font-size="6.3" text-anchor="middle" fill="#333" transform="translate(469.40 306.30) scale(1.07 1)" stroke="#333" stroke-width="0.2" >300</text>
<text x="423.70" y="181.70" font-size="8.0" text-anchor="middle" fill="#111" textLength="33.30" lengthAdjust="spacingAndGlyphs"  stroke="#111" stroke-width="0.2">Kasumi-1</text>
<text x="423.70" y="191.60" font-size="8.2" text-anchor="middle" fill="#111" stroke="#111" stroke-width="0.15" textLength="107.4" lengthAdjust="spacingAndGlyphs">Mean: 12.68 (<tspan font-style="italic">P</tspan> = 1.55e-68)</text>
<text x="353.80" y="244.20" font-size="8.4" text-anchor="middle" fill="#222" textLength="43.20" lengthAdjust="spacingAndGlyphs" transform="rotate(-90 353.80 244.20)" stroke="#222" stroke-width="0.42">CHR-6494 (nM)</text>
<text x="422.75" y="319.70" font-size="8.4" text-anchor="middle" fill="#222" textLength="44.10" lengthAdjust="spacingAndGlyphs" stroke="#222" stroke-width="0.42">Venetoclax (nM)</text>
<defs><linearGradient id="cDg" x1="0" y1="0" x2="0" y2="1"><stop offset="0.000" stop-color="#c80c34"/><stop offset="0.025" stop-color="#c90d35"/><stop offset="0.050" stop-color="#c90f35"/><stop offset="0.075" stop-color="#ca1036"/><stop offset="0.100" stop-color="#cd183a"/><stop offset="0.125" stop-color="#d02240"/><stop offset="0.150" stop-color="#d73448"/><stop offset="0.175" stop-color="#dc4455"/><stop offset="0.200" stop-color="#e25562"/><stop offset="0.225" stop-color="#e6646d"/><stop offset="0.250" stop-color="#e97378"/><stop offset="0.275" stop-color="#ec8488"/><stop offset="0.300" stop-color="#ef9698"/><stop offset="0.325" stop-color="#f2a8a8"/><stop offset="0.350" stop-color="#f4b9b9"/><stop offset="0.375" stop-color="#f6c8c8"/><stop offset="0.400" stop-color="#f8d7d6"/><stop offset="0.425" stop-color="#fae0df"/><stop offset="0.450" stop-color="#fbe9e8"/><stop offset="0.475" stop-color="#fdf4f4"/><stop offset="0.500" stop-color="#ffffff"/><stop offset="0.525" stop-color="#f6f8fc"/><stop offset="0.550" stop-color="#ecf1f8"/><stop offset="0.575" stop-color="#e0e8f4"/><stop offset="0.600" stop-color="#d4e0ef"/><stop offset="0.625" stop-color="#c8d7eb"/><stop offset="0.650" stop-color="#b6cae4"/><stop offset="0.675" stop-color="#a4bddd"/><stop offset="0.700" stop-color="#92b0d6"/><stop offset="0.725" stop-color="#80a3cf"/><stop offset="0.750" stop-color="#6e96c8"/><stop offset="0.775" stop-color="#628dc1"/><stop offset="0.800" stop-color="#5684ba"/><stop offset="0.825" stop-color="#4a7bb3"/><stop offset="0.850" stop-color="#3e72ac"/><stop offset="0.875" stop-color="#3269a5"/><stop offset="0.900" stop-color="#2e64a0"/><stop offset="0.925" stop-color="#295f9b"/><stop offset="0.950" stop-color="#255a96"/><stop offset="0.975" stop-color="#205591"/><stop offset="1.000" stop-color="#1c508c"/></linearGradient></defs>
<rect x="474.7" y="223.2" width="7.8" height="52.0" rx="1.5" fill="url(#cDg)"/>
<text x="474.70" y="216.20" font-size="6.3" text-anchor="start" fill="#333" textLength="40.60" lengthAdjust="spacingAndGlyphs"  stroke="#333" stroke-width="0.2">Synergy Score</text>
<text x="485.30" y="225.90" font-size="6.6" text-anchor="start" fill="#333"  stroke="#333" stroke-width="0.2">30</text>
<text x="485.30" y="234.47" font-size="6.6" text-anchor="start" fill="#333"  stroke="#333" stroke-width="0.2">20</text>
<text x="485.30" y="243.03" font-size="6.6" text-anchor="start" fill="#333"  stroke="#333" stroke-width="0.2">10</text>
<text x="485.30" y="251.60" font-size="6.6" text-anchor="start" fill="#333"  stroke="#333" stroke-width="0.2">0</text>
<text x="485.30" y="260.17" font-size="6.6" text-anchor="start" fill="#333"  stroke="#333" stroke-width="0.2">−10</text>
<text x="485.30" y="268.73" font-size="6.6" text-anchor="start" fill="#333"  stroke="#333" stroke-width="0.2">−20</text>
<text x="485.30" y="277.30" font-size="6.6" text-anchor="start" fill="#333"  stroke="#333" stroke-width="0.2">−30</text>
<defs><clipPath id="cE"><rect x="309.3" y="366.4" width="91.0" height="98.20000000000005"/></clipPath></defs>
<rect x="309.30" y="366.40" width="91.00" height="98.20" fill="#fae1de" />
<g clip-path="url(#cE)">
<path d="M318.20,410.00 C318.17,405.33 318.02,400.00 318.40,396.00 C318.78,392.00 319.40,388.57 320.50,386.00 C321.60,383.43 322.58,381.83 325.00,380.60 C327.42,379.37 329.17,378.98 335.00,378.60 C340.83,378.22 352.45,378.20 360.00,378.30 C367.55,378.40 374.97,378.77 380.30,379.20 C385.63,379.63 388.77,380.32 392.00,380.90 C395.23,381.48 396.37,382.02 399.70,382.70 C403.03,383.38 409.95,374.12 412.00,385.00 C414.05,395.88 414.05,437.17 412.00,448.00 C409.95,458.83 405.03,449.12 399.70,450.00 C394.37,450.88 385.78,452.60 380.00,453.30 C374.22,454.00 369.47,454.65 365.00,454.20 C360.53,453.75 358.18,452.73 353.20,450.60 C348.22,448.47 340.05,444.43 335.10,441.40 C330.15,438.37 326.25,435.30 323.50,432.40 C320.75,429.50 319.48,427.73 318.60,424.00 C317.72,420.27 318.23,414.67 318.20,410.00 Z" fill="#f0a09c" stroke="#f4a0a0" stroke-width="0.7" stroke-opacity="0.8"/>
<path d="M325.30,402.00 C325.47,399.50 325.97,396.07 327.00,394.00 C328.03,391.93 328.63,390.75 331.50,389.60 C334.37,388.45 339.45,387.70 344.20,387.10 C348.95,386.50 353.38,385.92 360.00,386.00 C366.62,386.08 377.28,386.93 383.90,387.60 C390.52,388.27 395.02,389.35 399.70,390.00 C404.38,390.65 409.95,383.33 412.00,391.50 C414.05,399.67 414.05,430.80 412.00,439.00 C409.95,447.20 405.03,439.75 399.70,440.70 C394.37,441.65 385.78,444.08 380.00,444.70 C374.22,445.32 369.17,445.25 365.00,444.40 C360.83,443.55 358.47,441.90 355.00,439.60 C351.53,437.30 348.12,434.20 344.20,430.60 C340.28,427.00 334.53,421.60 331.50,418.00 C328.47,414.40 327.03,411.67 326.00,409.00 C324.97,406.33 325.13,404.50 325.30,402.00 Z" fill="#e46464" stroke="#f4a0a0" stroke-width="0.7" stroke-opacity="0.8"/>
<path d="M338.40,405.00 C338.90,402.82 342.35,399.20 345.50,397.40 C348.65,395.60 353.22,395.02 357.30,394.20 C361.38,393.38 365.18,392.68 370.00,392.50 C374.82,392.32 382.17,392.23 386.20,393.10 C390.23,393.97 392.28,395.20 394.20,397.70 C396.12,400.20 397.50,404.45 397.70,408.10 C397.90,411.75 396.93,416.15 395.40,419.60 C393.87,423.05 391.38,426.48 388.50,428.80 C385.62,431.12 381.38,432.92 378.10,433.50 C374.82,434.08 371.88,433.65 368.80,432.30 C365.72,430.95 362.67,427.95 359.60,425.40 C356.53,422.85 353.25,419.48 350.40,417.00 C347.55,414.52 344.50,412.50 342.50,410.50 C340.50,408.50 337.90,407.18 338.40,405.00 Z" fill="#c80f32" stroke="#f4a0a0" stroke-width="0.7" stroke-opacity="0.8"/>
<path d="M357.30,408.00 C357.12,405.78 358.68,403.13 360.80,401.70 C362.92,400.27 366.73,399.68 370.00,399.40 C373.27,399.12 377.62,398.75 380.40,400.00 C383.18,401.25 386.03,404.40 386.70,406.90 C387.37,409.40 386.03,412.78 384.40,415.00 C382.77,417.22 379.30,419.43 376.90,420.20 C374.50,420.97 372.50,420.47 370.00,419.60 C367.50,418.73 364.02,416.93 361.90,415.00 C359.78,413.07 357.48,410.22 357.30,408.00 Z" fill="none" stroke="#f27c88" stroke-width="1.1"/>
<line x1="309.50" y1="366.40" x2="309.50" y2="464.60" stroke="#a07070" stroke-width="0.45" stroke-dasharray="0.7 1.1" stroke-opacity="0.6"/>
<line x1="324.55" y1="366.40" x2="324.55" y2="464.60" stroke="#a07070" stroke-width="0.45" stroke-dasharray="0.7 1.1" stroke-opacity="0.6"/>
<line x1="339.60" y1="366.40" x2="339.60" y2="464.60" stroke="#a07070" stroke-width="0.45" stroke-dasharray="0.7 1.1" stroke-opacity="0.6"/>
<line x1="354.65" y1="366.40" x2="354.65" y2="464.60" stroke="#a07070" stroke-width="0.45" stroke-dasharray="0.7 1.1" stroke-opacity="0.6"/>
<line x1="369.70" y1="366.40" x2="369.70" y2="464.60" stroke="#a07070" stroke-width="0.45" stroke-dasharray="0.7 1.1" stroke-opacity="0.6"/>
<line x1="384.75" y1="366.40" x2="384.75" y2="464.60" stroke="#a07070" stroke-width="0.45" stroke-dasharray="0.7 1.1" stroke-opacity="0.6"/>
<line x1="399.80" y1="366.40" x2="399.80" y2="464.60" stroke="#a07070" stroke-width="0.45" stroke-dasharray="0.7 1.1" stroke-opacity="0.6"/>
<line x1="309.30" y1="367.70" x2="400.30" y2="367.70" stroke="#a07070" stroke-width="0.45" stroke-dasharray="0.7 1.1" stroke-opacity="0.6"/>
<line x1="309.30" y1="383.67" x2="400.30" y2="383.67" stroke="#a07070" stroke-width="0.45" stroke-dasharray="0.7 1.1" stroke-opacity="0.6"/>
<line x1="309.30" y1="399.64" x2="400.30" y2="399.64" stroke="#a07070" stroke-width="0.45" stroke-dasharray="0.7 1.1" stroke-opacity="0.6"/>
<line x1="309.30" y1="415.61" x2="400.30" y2="415.61" stroke="#a07070" stroke-width="0.45" stroke-dasharray="0.7 1.1" stroke-opacity="0.6"/>
<line x1="309.30" y1="431.58" x2="400.30" y2="431.58" stroke="#a07070" stroke-width="0.45" stroke-dasharray="0.7 1.1" stroke-opacity="0.6"/>
<line x1="309.30" y1="447.55" x2="400.30" y2="447.55" stroke="#a07070" stroke-width="0.45" stroke-dasharray="0.7 1.1" stroke-opacity="0.6"/>
<line x1="309.30" y1="463.52" x2="400.30" y2="463.52" stroke="#a07070" stroke-width="0.45" stroke-dasharray="0.7 1.1" stroke-opacity="0.6"/>
</g>
<line x1="307.90" y1="365.90" x2="307.90" y2="466.60" stroke="#1a1a1a" stroke-width="1.2" />
<line x1="307.30" y1="466.00" x2="400.80" y2="466.00" stroke="#1a1a1a" stroke-width="1.2" />
<line x1="305.30" y1="367.70" x2="307.90" y2="367.70" stroke="#1a1a1a" stroke-width="0.9" />
<text x="0" y="0" font-size="5.8" text-anchor="end" fill="#333" transform="translate(301.60 369.75) scale(1.17 1)" stroke="#333" stroke-width="0.2" >3000</text>
<line x1="305.30" y1="383.67" x2="307.90" y2="383.67" stroke="#1a1a1a" stroke-width="0.9" />
<text x="0" y="0" font-size="5.8" text-anchor="end" fill="#333" transform="translate(301.60 385.72) scale(1.17 1)" stroke="#333" stroke-width="0.2" >1000</text>
<line x1="305.30" y1="399.64" x2="307.90" y2="399.64" stroke="#1a1a1a" stroke-width="0.9" />
<text x="0" y="0" font-size="5.8" text-anchor="end" fill="#333" transform="translate(301.60 401.69) scale(1.17 1)" stroke="#333" stroke-width="0.2" >300</text>
<line x1="305.30" y1="415.61" x2="307.90" y2="415.61" stroke="#1a1a1a" stroke-width="0.9" />
<text x="0" y="0" font-size="5.8" text-anchor="end" fill="#333" transform="translate(301.60 417.66) scale(1.17 1)" stroke="#333" stroke-width="0.2" >100</text>
<line x1="305.30" y1="431.58" x2="307.90" y2="431.58" stroke="#1a1a1a" stroke-width="0.9" />
<text x="0" y="0" font-size="5.8" text-anchor="end" fill="#333" transform="translate(301.60 433.63) scale(1.17 1)" stroke="#333" stroke-width="0.2" >30</text>
<line x1="305.30" y1="447.55" x2="307.90" y2="447.55" stroke="#1a1a1a" stroke-width="0.9" />
<text x="0" y="0" font-size="5.8" text-anchor="end" fill="#333" transform="translate(301.60 449.60) scale(1.17 1)" stroke="#333" stroke-width="0.2" >10</text>
<line x1="305.30" y1="463.52" x2="307.90" y2="463.52" stroke="#1a1a1a" stroke-width="0.9" />
<text x="0" y="0" font-size="5.8" text-anchor="end" fill="#333" transform="translate(301.60 465.57) scale(1.17 1)" stroke="#333" stroke-width="0.2" >0</text>
<line x1="309.50" y1="466.00" x2="309.50" y2="468.40" stroke="#1a1a1a" stroke-width="0.9" />
<text x="0" y="0" font-size="5.8" text-anchor="end" fill="#333" transform="translate(309.30 475.40) rotate(-45) scale(1.17 1)" stroke="#333" stroke-width="0.2" >0</text>
<line x1="324.55" y1="466.00" x2="324.55" y2="468.40" stroke="#1a1a1a" stroke-width="0.9" />
<text x="0" y="0" font-size="5.8" text-anchor="end" fill="#333" transform="translate(324.35 475.40) rotate(-45) scale(1.17 1)" stroke="#333" stroke-width="0.2" >10</text>
<line x1="339.60" y1="466.00" x2="339.60" y2="468.40" stroke="#1a1a1a" stroke-width="0.9" />
<text x="0" y="0" font-size="5.8" text-anchor="end" fill="#333" transform="translate(339.40 475.40) rotate(-45) scale(1.17 1)" stroke="#333" stroke-width="0.2" >30</text>
<line x1="354.65" y1="466.00" x2="354.65" y2="468.40" stroke="#1a1a1a" stroke-width="0.9" />
<text x="0" y="0" font-size="5.8" text-anchor="end" fill="#333" transform="translate(354.45 475.40) rotate(-45) scale(1.17 1)" stroke="#333" stroke-width="0.2" >100</text>
<line x1="369.70" y1="466.00" x2="369.70" y2="468.40" stroke="#1a1a1a" stroke-width="0.9" />
<text x="0" y="0" font-size="5.8" text-anchor="end" fill="#333" transform="translate(369.50 475.40) rotate(-45) scale(1.17 1)" stroke="#333" stroke-width="0.2" >300</text>
<line x1="384.75" y1="466.00" x2="384.75" y2="468.40" stroke="#1a1a1a" stroke-width="0.9" />
<text x="0" y="0" font-size="5.8" text-anchor="end" fill="#333" transform="translate(384.55 475.40) rotate(-45) scale(1.17 1)" stroke="#333" stroke-width="0.2" >1000</text>
<line x1="399.80" y1="466.00" x2="399.80" y2="468.40" stroke="#1a1a1a" stroke-width="0.9" />
<text x="0" y="0" font-size="5.8" text-anchor="end" fill="#333" transform="translate(399.60 475.40) rotate(-45) scale(1.17 1)" stroke="#333" stroke-width="0.2" >3000</text>
<text x="355.40" y="352.70" font-size="8.0" text-anchor="middle" fill="#111" textLength="23.10" lengthAdjust="spacingAndGlyphs"  stroke="#111" stroke-width="0.2">THP-1</text>
<text x="355.40" y="363.60" font-size="8.2" text-anchor="middle" fill="#111" stroke="#111" stroke-width="0.15" textLength="106.9" lengthAdjust="spacingAndGlyphs">Mean: 19.22 (<tspan font-style="italic">P</tspan> = 1.17e-10)</text>
<text x="281.40" y="411.35" font-size="8.4" text-anchor="middle" fill="#222" textLength="42.90" lengthAdjust="spacingAndGlyphs" transform="rotate(-90 281.40 411.35)" stroke="#222" stroke-width="0.42">CHR-6494 (nM)</text>
<text x="355.05" y="496.50" font-size="8.4" text-anchor="middle" fill="#222" textLength="43.10" lengthAdjust="spacingAndGlyphs" stroke="#222" stroke-width="0.42">Venetoclax (nM)</text>
<defs><linearGradient id="cEg" x1="0" y1="0" x2="0" y2="1"><stop offset="0.000" stop-color="#c80c34"/><stop offset="0.025" stop-color="#c90d35"/><stop offset="0.050" stop-color="#c90f35"/><stop offset="0.075" stop-color="#ca1036"/><stop offset="0.100" stop-color="#cd183a"/><stop offset="0.125" stop-color="#d02240"/><stop offset="0.150" stop-color="#d73448"/><stop offset="0.175" stop-color="#dc4455"/><stop offset="0.200" stop-color="#e25562"/><stop offset="0.225" stop-color="#e6646d"/><stop offset="0.250" stop-color="#e97378"/><stop offset="0.275" stop-color="#ec8488"/><stop offset="0.300" stop-color="#ef9698"/><stop offset="0.325" stop-color="#f2a8a8"/><stop offset="0.350" stop-color="#f4b9b9"/><stop offset="0.375" stop-color="#f6c8c8"/><stop offset="0.400" stop-color="#f8d7d6"/><stop offset="0.425" stop-color="#fae0df"/><stop offset="0.450" stop-color="#fbe9e8"/><stop offset="0.475" stop-color="#fdf4f4"/><stop offset="0.500" stop-color="#ffffff"/><stop offset="0.525" stop-color="#f6f8fc"/><stop offset="0.550" stop-color="#ecf1f8"/><stop offset="0.575" stop-color="#e0e8f4"/><stop offset="0.600" stop-color="#d4e0ef"/><stop offset="0.625" stop-color="#c8d7eb"/><stop offset="0.650" stop-color="#b6cae4"/><stop offset="0.675" stop-color="#a4bddd"/><stop offset="0.700" stop-color="#92b0d6"/><stop offset="0.725" stop-color="#80a3cf"/><stop offset="0.750" stop-color="#6e96c8"/><stop offset="0.775" stop-color="#628dc1"/><stop offset="0.800" stop-color="#5684ba"/><stop offset="0.825" stop-color="#4a7bb3"/><stop offset="0.850" stop-color="#3e72ac"/><stop offset="0.875" stop-color="#3269a5"/><stop offset="0.900" stop-color="#2e64a0"/><stop offset="0.925" stop-color="#295f9b"/><stop offset="0.950" stop-color="#255a96"/><stop offset="0.975" stop-color="#205591"/><stop offset="1.000" stop-color="#1c508c"/></linearGradient></defs>
<rect x="406.2" y="394.6" width="7.8" height="51.6" rx="1.5" fill="url(#cEg)"/>
<text x="406.20" y="387.60" font-size="6.3" text-anchor="start" fill="#333" textLength="40.60" lengthAdjust="spacingAndGlyphs"  stroke="#333" stroke-width="0.2">Synergy Score</text>
<text x="416.80" y="397.30" font-size="6.6" text-anchor="start" fill="#333"  stroke="#333" stroke-width="0.2">50</text>
<text x="416.80" y="410.05" font-size="6.6" text-anchor="start" fill="#333"  stroke="#333" stroke-width="0.2">25</text>
<text x="416.80" y="422.80" font-size="6.6" text-anchor="start" fill="#333"  stroke="#333" stroke-width="0.2">0</text>
<text x="416.80" y="435.55" font-size="6.6" text-anchor="start" fill="#333"  stroke="#333" stroke-width="0.2">−25</text>
<text x="416.80" y="448.30" font-size="6.6" text-anchor="start" fill="#333"  stroke="#333" stroke-width="0.2">−50</text>
<defs><clipPath id="cF"><rect x="309.3" y="535.4" width="91.0" height="97.60000000000002"/></clipPath></defs>
<rect x="309.30" y="535.40" width="91.00" height="97.60" fill="#f6cdca" />
<g clip-path="url(#cF)">
<path d="M339.60,596.00 C340.60,596.00 341.87,596.33 342.60,598.00 C343.33,599.67 343.73,602.67 344.00,606.00 C344.27,609.33 344.20,613.67 344.20,618.00 C344.20,622.33 344.03,628.33 344.00,632.00 C343.97,635.67 345.50,638.67 344.00,640.00 C342.50,641.33 336.50,641.33 335.00,640.00 C333.50,638.67 335.00,635.67 335.00,632.00 C335.00,628.33 334.97,622.33 335.00,618.00 C335.03,613.67 334.93,609.33 335.20,606.00 C335.47,602.67 335.87,599.67 336.60,598.00 C337.33,596.33 338.60,596.00 339.60,596.00 Z" fill="#cdd4ea" />
<path d="M320.70,552.10 C320.73,550.40 321.60,548.58 322.50,547.40 C323.40,546.22 324.00,545.72 326.10,545.00 C328.20,544.28 329.45,543.48 335.10,543.10 C340.75,542.72 351.68,542.82 360.00,542.70 C368.32,542.58 378.33,542.48 385.00,542.40 C391.67,542.32 395.83,542.27 400.00,542.20 C404.17,542.13 408.33,537.87 410.00,542.00 C411.67,546.13 411.67,562.85 410.00,567.00 C408.33,571.15 405.00,567.03 400.00,566.90 C395.00,566.77 386.67,566.57 380.00,566.20 C373.33,565.83 367.48,565.25 360.00,564.70 C352.52,564.15 340.75,563.52 335.10,562.90 C329.45,562.28 328.23,561.88 326.10,561.00 C323.97,560.12 323.20,559.08 322.30,557.60 C321.40,556.12 320.67,553.80 320.70,552.10 Z" fill="#e2696b" stroke="#f4a0a0" stroke-width="0.7" stroke-opacity="0.8"/>
<path d="M350.60,553.30 C350.60,552.32 351.15,550.97 354.60,550.30 C358.05,549.63 366.42,549.55 371.30,549.30 C376.18,549.05 379.12,548.80 383.90,548.80 C388.68,548.80 395.65,549.20 400.00,549.30 C404.35,549.40 408.33,547.95 410.00,549.40 C411.67,550.85 411.67,556.58 410.00,558.00 C408.33,559.42 404.35,557.97 400.00,557.90 C395.65,557.83 388.68,557.73 383.90,557.60 C379.12,557.47 376.18,557.33 371.30,557.10 C366.42,556.87 358.05,556.83 354.60,556.20 C351.15,555.57 350.60,554.28 350.60,553.30 Z" fill="#c80f32" stroke="#f4a0a0" stroke-width="0.7" stroke-opacity="0.8"/>
<line x1="309.50" y1="535.40" x2="309.50" y2="633.00" stroke="#a07070" stroke-width="0.45" stroke-dasharray="0.7 1.1" stroke-opacity="0.6"/>
<line x1="324.55" y1="535.40" x2="324.55" y2="633.00" stroke="#a07070" stroke-width="0.45" stroke-dasharray="0.7 1.1" stroke-opacity="0.6"/>
<line x1="339.60" y1="535.40" x2="339.60" y2="633.00" stroke="#a07070" stroke-width="0.45" stroke-dasharray="0.7 1.1" stroke-opacity="0.6"/>
<line x1="354.65" y1="535.40" x2="354.65" y2="633.00" stroke="#a07070" stroke-width="0.45" stroke-dasharray="0.7 1.1" stroke-opacity="0.6"/>
<line x1="369.70" y1="535.40" x2="369.70" y2="633.00" stroke="#a07070" stroke-width="0.45" stroke-dasharray="0.7 1.1" stroke-opacity="0.6"/>
<line x1="384.75" y1="535.40" x2="384.75" y2="633.00" stroke="#a07070" stroke-width="0.45" stroke-dasharray="0.7 1.1" stroke-opacity="0.6"/>
<line x1="399.80" y1="535.40" x2="399.80" y2="633.00" stroke="#a07070" stroke-width="0.45" stroke-dasharray="0.7 1.1" stroke-opacity="0.6"/>
<line x1="309.30" y1="536.70" x2="400.30" y2="536.70" stroke="#a07070" stroke-width="0.45" stroke-dasharray="0.7 1.1" stroke-opacity="0.6"/>
<line x1="309.30" y1="552.67" x2="400.30" y2="552.67" stroke="#a07070" stroke-width="0.45" stroke-dasharray="0.7 1.1" stroke-opacity="0.6"/>
<line x1="309.30" y1="568.64" x2="400.30" y2="568.64" stroke="#a07070" stroke-width="0.45" stroke-dasharray="0.7 1.1" stroke-opacity="0.6"/>
<line x1="309.30" y1="584.61" x2="400.30" y2="584.61" stroke="#a07070" stroke-width="0.45" stroke-dasharray="0.7 1.1" stroke-opacity="0.6"/>
<line x1="309.30" y1="600.58" x2="400.30" y2="600.58" stroke="#a07070" stroke-width="0.45" stroke-dasharray="0.7 1.1" stroke-opacity="0.6"/>
<line x1="309.30" y1="616.55" x2="400.30" y2="616.55" stroke="#a07070" stroke-width="0.45" stroke-dasharray="0.7 1.1" stroke-opacity="0.6"/>
<line x1="309.30" y1="632.52" x2="400.30" y2="632.52" stroke="#a07070" stroke-width="0.45" stroke-dasharray="0.7 1.1" stroke-opacity="0.6"/>
</g>
<line x1="307.90" y1="534.90" x2="307.90" y2="635.60" stroke="#1a1a1a" stroke-width="1.2" />
<line x1="307.30" y1="635.00" x2="400.80" y2="635.00" stroke="#1a1a1a" stroke-width="1.2" />
<line x1="305.30" y1="536.70" x2="307.90" y2="536.70" stroke="#1a1a1a" stroke-width="0.9" />
<text x="0" y="0" font-size="5.8" text-anchor="end" fill="#333" transform="translate(301.60 538.75) scale(1.17 1)" stroke="#333" stroke-width="0.2" >3000</text>
<line x1="305.30" y1="552.67" x2="307.90" y2="552.67" stroke="#1a1a1a" stroke-width="0.9" />
<text x="0" y="0" font-size="5.8" text-anchor="end" fill="#333" transform="translate(301.60 554.72) scale(1.17 1)" stroke="#333" stroke-width="0.2" >1000</text>
<line x1="305.30" y1="568.64" x2="307.90" y2="568.64" stroke="#1a1a1a" stroke-width="0.9" />
<text x="0" y="0" font-size="5.8" text-anchor="end" fill="#333" transform="translate(301.60 570.69) scale(1.17 1)" stroke="#333" stroke-width="0.2" >300</text>
<line x1="305.30" y1="584.61" x2="307.90" y2="584.61" stroke="#1a1a1a" stroke-width="0.9" />
<text x="0" y="0" font-size="5.8" text-anchor="end" fill="#333" transform="translate(301.60 586.66) scale(1.17 1)" stroke="#333" stroke-width="0.2" >100</text>
<line x1="305.30" y1="600.58" x2="307.90" y2="600.58" stroke="#1a1a1a" stroke-width="0.9" />
<text x="0" y="0" font-size="5.8" text-anchor="end" fill="#333" transform="translate(301.60 602.63) scale(1.17 1)" stroke="#333" stroke-width="0.2" >30</text>
<line x1="305.30" y1="616.55" x2="307.90" y2="616.55" stroke="#1a1a1a" stroke-width="0.9" />
<text x="0" y="0" font-size="5.8" text-anchor="end" fill="#333" transform="translate(301.60 618.60) scale(1.17 1)" stroke="#333" stroke-width="0.2" >10</text>
<line x1="305.30" y1="632.52" x2="307.90" y2="632.52" stroke="#1a1a1a" stroke-width="0.9" />
<text x="0" y="0" font-size="5.8" text-anchor="end" fill="#333" transform="translate(301.60 634.57) scale(1.17 1)" stroke="#333" stroke-width="0.2" >0</text>
<line x1="309.50" y1="635.00" x2="309.50" y2="637.40" stroke="#1a1a1a" stroke-width="0.9" />
<text x="0" y="0" font-size="5.8" text-anchor="end" fill="#333" transform="translate(309.30 644.40) rotate(-45) scale(1.17 1)" stroke="#333" stroke-width="0.2" >0</text>
<line x1="324.55" y1="635.00" x2="324.55" y2="637.40" stroke="#1a1a1a" stroke-width="0.9" />
<text x="0" y="0" font-size="5.8" text-anchor="end" fill="#333" transform="translate(324.35 644.40) rotate(-45) scale(1.17 1)" stroke="#333" stroke-width="0.2" >10</text>
<line x1="339.60" y1="635.00" x2="339.60" y2="637.40" stroke="#1a1a1a" stroke-width="0.9" />
<text x="0" y="0" font-size="5.8" text-anchor="end" fill="#333" transform="translate(339.40 644.40) rotate(-45) scale(1.17 1)" stroke="#333" stroke-width="0.2" >30</text>
<line x1="354.65" y1="635.00" x2="354.65" y2="637.40" stroke="#1a1a1a" stroke-width="0.9" />
<text x="0" y="0" font-size="5.8" text-anchor="end" fill="#333" transform="translate(354.45 644.40) rotate(-45) scale(1.17 1)" stroke="#333" stroke-width="0.2" >100</text>
<line x1="369.70" y1="635.00" x2="369.70" y2="637.40" stroke="#1a1a1a" stroke-width="0.9" />
<text x="0" y="0" font-size="5.8" text-anchor="end" fill="#333" transform="translate(369.50 644.40) rotate(-45) scale(1.17 1)" stroke="#333" stroke-width="0.2" >300</text>
<line x1="384.75" y1="635.00" x2="384.75" y2="637.40" stroke="#1a1a1a" stroke-width="0.9" />
<text x="0" y="0" font-size="5.8" text-anchor="end" fill="#333" transform="translate(384.55 644.40) rotate(-45) scale(1.17 1)" stroke="#333" stroke-width="0.2" >1000</text>
<line x1="399.80" y1="635.00" x2="399.80" y2="637.40" stroke="#1a1a1a" stroke-width="0.9" />
<text x="0" y="0" font-size="5.8" text-anchor="end" fill="#333" transform="translate(399.60 644.40) rotate(-45) scale(1.17 1)" stroke="#333" stroke-width="0.2" >3000</text>
<text x="355.60" y="522.20" font-size="8.0" text-anchor="middle" fill="#111" textLength="40.40" lengthAdjust="spacingAndGlyphs"  stroke="#111" stroke-width="0.2">OCI-AML3</text>
<text x="355.60" y="532.70" font-size="8.2" text-anchor="middle" fill="#111" stroke="#111" stroke-width="0.15" textLength="102.8" lengthAdjust="spacingAndGlyphs">Mean: 5.78 (<tspan font-style="italic">P</tspan> = 4.35e-05)</text>
<text x="281.40" y="580.35" font-size="8.4" text-anchor="middle" fill="#222" textLength="42.90" lengthAdjust="spacingAndGlyphs" transform="rotate(-90 281.40 580.35)" stroke="#222" stroke-width="0.42">CHR-6494 (nM)</text>
<text x="355.05" y="665.50" font-size="8.4" text-anchor="middle" fill="#222" textLength="43.10" lengthAdjust="spacingAndGlyphs" stroke="#222" stroke-width="0.42">Venetoclax (nM)</text>
<defs><linearGradient id="cFg" x1="0" y1="0" x2="0" y2="1"><stop offset="0.000" stop-color="#c80c34"/><stop offset="0.025" stop-color="#c90d35"/><stop offset="0.050" stop-color="#c90f35"/><stop offset="0.075" stop-color="#ca1036"/><stop offset="0.100" stop-color="#cd183a"/><stop offset="0.125" stop-color="#d02240"/><stop offset="0.150" stop-color="#d73448"/><stop offset="0.175" stop-color="#dc4455"/><stop offset="0.200" stop-color="#e25562"/><stop offset="0.225" stop-color="#e6646d"/><stop offset="0.250" stop-color="#e97378"/><stop offset="0.275" stop-color="#ec8488"/><stop offset="0.300" stop-color="#ef9698"/><stop offset="0.325" stop-color="#f2a8a8"/><stop offset="0.350" stop-color="#f4b9b9"/><stop offset="0.375" stop-color="#f6c8c8"/><stop offset="0.400" stop-color="#f8d7d6"/><stop offset="0.425" stop-color="#fae0df"/><stop offset="0.450" stop-color="#fbe9e8"/><stop offset="0.475" stop-color="#fdf4f4"/><stop offset="0.500" stop-color="#ffffff"/><stop offset="0.525" stop-color="#f6f8fc"/><stop offset="0.550" stop-color="#ecf1f8"/><stop offset="0.575" stop-color="#e0e8f4"/><stop offset="0.600" stop-color="#d4e0ef"/><stop offset="0.625" stop-color="#c8d7eb"/><stop offset="0.650" stop-color="#b6cae4"/><stop offset="0.675" stop-color="#a4bddd"/><stop offset="0.700" stop-color="#92b0d6"/><stop offset="0.725" stop-color="#80a3cf"/><stop offset="0.750" stop-color="#6e96c8"/><stop offset="0.775" stop-color="#628dc1"/><stop offset="0.800" stop-color="#5684ba"/><stop offset="0.825" stop-color="#4a7bb3"/><stop offset="0.850" stop-color="#3e72ac"/><stop offset="0.875" stop-color="#3269a5"/><stop offset="0.900" stop-color="#2e64a0"/><stop offset="0.925" stop-color="#295f9b"/><stop offset="0.950" stop-color="#255a96"/><stop offset="0.975" stop-color="#205591"/><stop offset="1.000" stop-color="#1c508c"/></linearGradient></defs>
<rect x="406.2" y="563.6" width="7.8" height="51.6" rx="1.5" fill="url(#cFg)"/>
<text x="406.20" y="556.60" font-size="6.3" text-anchor="start" fill="#333" textLength="40.60" lengthAdjust="spacingAndGlyphs"  stroke="#333" stroke-width="0.2">Synergy Score</text>
<text x="416.80" y="566.30" font-size="6.6" text-anchor="start" fill="#333"  stroke="#333" stroke-width="0.2">30</text>
<text x="416.80" y="574.80" font-size="6.6" text-anchor="start" fill="#333"  stroke="#333" stroke-width="0.2">20</text>
<text x="416.80" y="583.30" font-size="6.6" text-anchor="start" fill="#333"  stroke="#333" stroke-width="0.2">10</text>
<text x="416.80" y="591.80" font-size="6.6" text-anchor="start" fill="#333"  stroke="#333" stroke-width="0.2">0</text>
<text x="416.80" y="600.30" font-size="6.6" text-anchor="start" fill="#333"  stroke="#333" stroke-width="0.2">−10</text>
<text x="416.80" y="608.80" font-size="6.6" text-anchor="start" fill="#333"  stroke="#333" stroke-width="0.2">−20</text>
<text x="416.80" y="617.30" font-size="6.6" text-anchor="start" fill="#333"  stroke="#333" stroke-width="0.2">−30</text>
</g>
<rect x="0.5" y="0.5" width="519" height="673" fill="none" stroke="#5c5c5c" stroke-width="1"/>
</svg></body></html>
